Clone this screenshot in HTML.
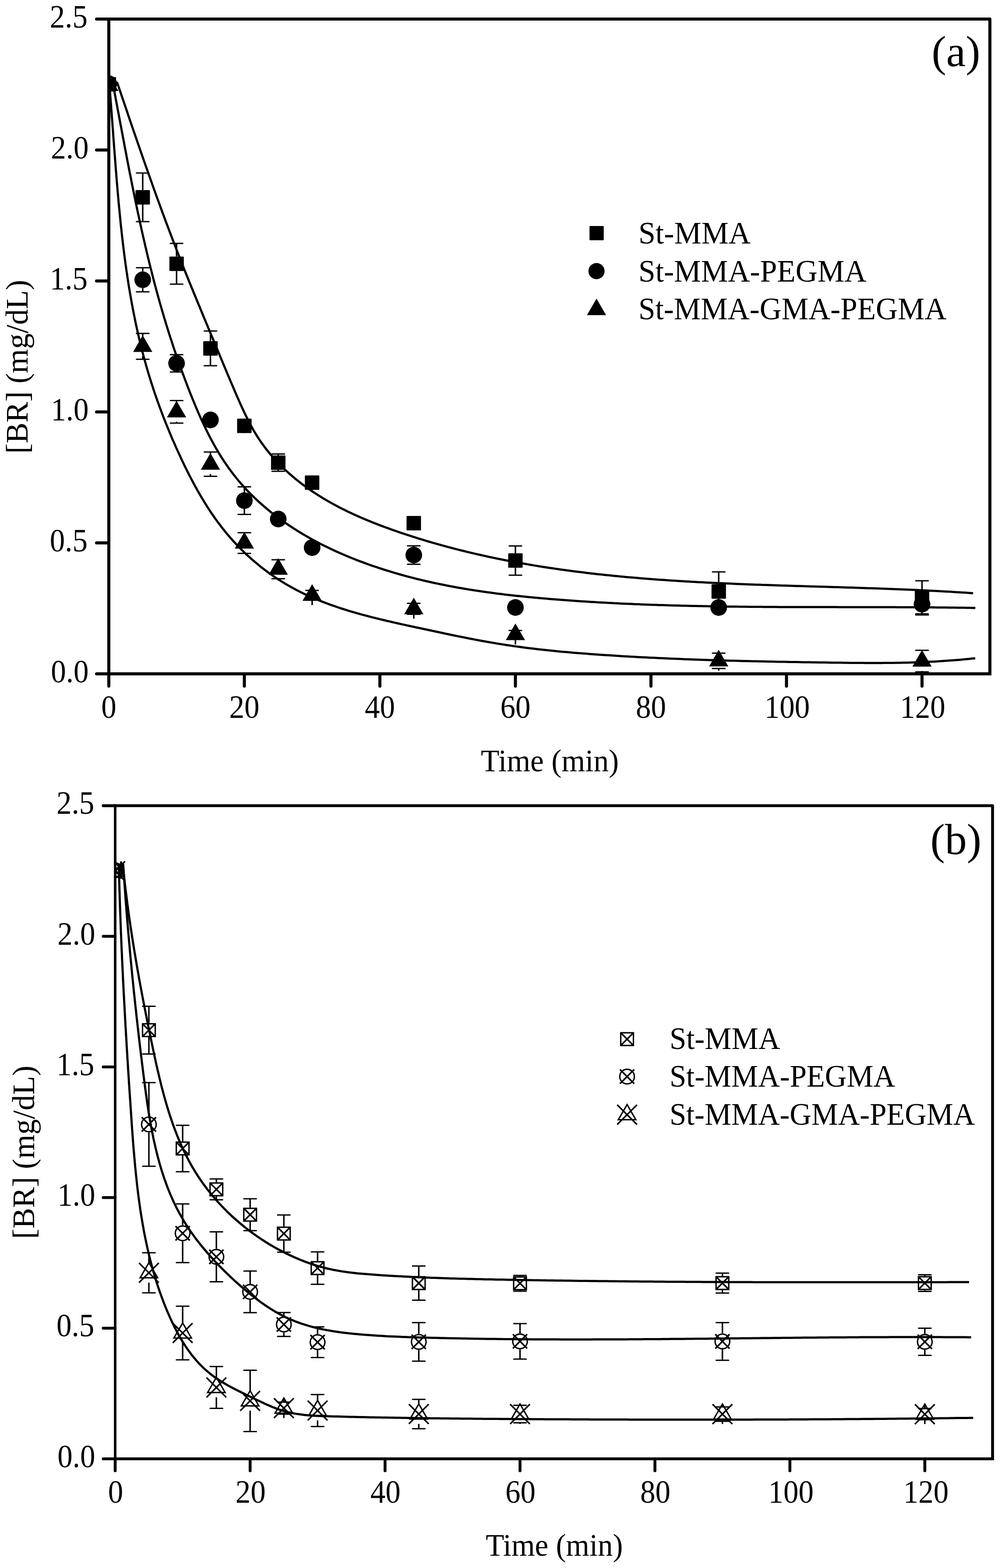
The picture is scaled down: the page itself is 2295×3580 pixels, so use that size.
<!DOCTYPE html>
<html><head><meta charset="utf-8"><title>BR adsorption kinetics</title>
<style>html,body{margin:0;padding:0;background:#fff;}svg{display:block;}</style>
</head><body>
<svg width="2295" height="3580" viewBox="0 0 2295 3580">
<rect width="2295" height="3580" fill="#fff"/>
<defs><clipPath id="ca"><rect x="248.5" y="43.5" width="2012" height="1495"/></clipPath>
<clipPath id="cb"><rect x="263" y="1839.5" width="2003.6" height="1491.2"/></clipPath></defs>
<g stroke="#000" stroke-linecap="round" stroke-width="7">
<line x1="248.5" y1="1538.5" x2="220.5" y2="1538.5"/>
<line x1="248.5" y1="1239.5" x2="220.5" y2="1239.5"/>
<line x1="248.5" y1="940.5" x2="220.5" y2="940.5"/>
<line x1="248.5" y1="641.5" x2="220.5" y2="641.5"/>
<line x1="248.5" y1="342.5" x2="220.5" y2="342.5"/>
<line x1="248.5" y1="43.5" x2="220.5" y2="43.5"/>
<line x1="248.5" y1="1538.5" x2="248.5" y2="1566.5"/>
<line x1="558" y1="1538.5" x2="558" y2="1566.5"/>
<line x1="867.5" y1="1538.5" x2="867.5" y2="1566.5"/>
<line x1="1177" y1="1538.5" x2="1177" y2="1566.5"/>
<line x1="1486.5" y1="1538.5" x2="1486.5" y2="1566.5"/>
<line x1="1796" y1="1538.5" x2="1796" y2="1566.5"/>
<line x1="2105.5" y1="1538.5" x2="2105.5" y2="1566.5"/>
<path d="M248.5 43.5L2260.5 43.5L2260.5 1538.5" fill="none" stroke-linejoin="round" stroke-linecap="square"/>
<path d="M2260.5 1538.5L248.5 1538.5" fill="none" stroke-linecap="square"/>
<path d="M248.5 1538.5L248.5 43.5" fill="none" stroke-linecap="square" stroke-width="7"/>
</g>
<g stroke="#000" stroke-linecap="round" stroke-width="6.6">
<line x1="263" y1="3330.7" x2="235.7" y2="3330.7"/>
<line x1="263" y1="3032.5" x2="235.7" y2="3032.5"/>
<line x1="263" y1="2734.3" x2="235.7" y2="2734.3"/>
<line x1="263" y1="2436" x2="235.7" y2="2436"/>
<line x1="263" y1="2137.8" x2="235.7" y2="2137.8"/>
<line x1="263" y1="1839.6" x2="235.7" y2="1839.6"/>
<line x1="263" y1="3330.7" x2="263" y2="3358"/>
<line x1="571.2" y1="3330.7" x2="571.2" y2="3358"/>
<line x1="879.3" y1="3330.7" x2="879.3" y2="3358"/>
<line x1="1187.5" y1="3330.7" x2="1187.5" y2="3358"/>
<line x1="1495.6" y1="3330.7" x2="1495.6" y2="3358"/>
<line x1="1803.8" y1="3330.7" x2="1803.8" y2="3358"/>
<line x1="2111.9" y1="3330.7" x2="2111.9" y2="3358"/>
<path d="M263 1839.5L2266.6 1839.5L2266.6 3330.7" fill="none" stroke-linejoin="round" stroke-linecap="square"/>
<path d="M2266.6 3330.7L263 3330.7" fill="none" stroke-linecap="square"/>
<path d="M263 3330.7L263 1839.5" fill="none" stroke-linecap="square" stroke-width="5.8"/>
</g>
<g fill="none" stroke="#000" stroke-width="5" stroke-linecap="butt" stroke-linejoin="round" clip-path="url(#ca)">
<path d="M267.1 187L269.2 193.1L271.3 199.3L273.4 205.4L275.5 211.6L277.5 217.7L279.6 223.9L281.7 230L283.8 236.2L285.9 242.3L288 248.5L290.1 254.6L292.1 260.8L294.2 266.9L296.3 273.1L298.4 279.2L300.5 285.4L302.6 291.5L304.7 297.7L306.9 303.9L309 310L311.1 316.2L313.2 322.3L315.3 328.4L317.5 334.6L319.6 340.7L321.7 346.9L323.9 353L326 359.2L328.1 365.3L330.3 371.5L332.4 377.6L334.6 383.7L336.8 389.9L338.9 396L341.1 402.1L343.3 408.3L345.5 414.4L347.6 420.5L349.8 426.7L352 432.8L354.2 438.9L356.4 445L358.6 451.1L360.9 457.3L363.1 463.4L365.3 469.5L367.6 475.6L369.8 481.7L372 487.8L374.3 493.9L376.6 500L378.8 506.1L381.1 512.2L383.4 518.3L385.7 524.3L388 530.4L390.3 536.5L392.6 542.6L394.9 548.6L397.2 554.7L399.6 560.8L401.9 566.8L404.2 572.9L406.6 578.9L409 585L411.3 591L413.7 597.1L416.1 603.1L418.5 609.1L420.9 615.2L423.3 621.2L425.7 627.2L428.2 633.2L430.6 639.2L433 645.3L435.5 651.3L437.9 657.3L440.4 663.3L442.8 669.3L445.3 675.3L447.8 681.3L450.2 687.3L452.7 693.3L455.2 699.3L457.7 705.3L460.2 711.3L462.6 717.3L465.1 723.3L467.6 729.2L470.1 735.2L472.6 741.2L475.1 747.2L477.6 753.2L480.1 759.2L482.6 765.2L485.1 771.2L487.6 777.2L490.1 783.2L492.6 789.2L495.1 795.2L497.6 801.2L500.1 807.2L502.6 813.2L505.1 819.2L507.6 825.2L510.1 831.2L512.6 837.2L515.1 843.2L517.6 849.2L520.1 855.2L522.7 861.2L525.2 867.2L527.7 873.2L530.3 879.2L532.9 885.2L535.4 891.2L538 897.2L540.6 903.2L543.3 909.2L545.9 915.2L548.5 921.2L551.2 927.2L554 933.1L556.7 939.1L559.5 945L562.4 950.9L565.3 956.7L568.2 962.5L571.2 968.3L574.3 974L577.5 979.7L580.7 985.3L584.1 990.9L587.5 996.3L591 1001.8L594.6 1007.1L598.3 1012.4L602.1 1017.6L605.9 1022.8L609.9 1027.9L613.9 1032.9L618 1037.8L622.3 1042.7L626.5 1047.5L630.9 1052.3L635.3 1057L639.8 1061.6L644.4 1066.1L649 1070.6L653.7 1075L658.5 1079.3L663.4 1083.6L668.3 1087.8L673.2 1092L678.2 1096.1L683.3 1100.1L688.4 1104.1L693.6 1107.9L698.8 1111.8L704.1 1115.5L709.4 1119.2L714.7 1122.9L720.1 1126.4L725.6 1130L731.1 1133.4L736.6 1136.8L742.1 1140.1L747.7 1143.4L753.4 1146.6L759 1149.8L764.7 1152.9L770.5 1156L776.2 1159L782 1161.9L787.9 1164.8L793.7 1167.7L799.6 1170.5L805.5 1173.3L811.4 1176L817.4 1178.6L823.4 1181.3L829.4 1183.9L835.4 1186.4L841.4 1188.9L847.5 1191.4L853.6 1193.8L859.7 1196.2L865.8 1198.6L871.9 1200.9L878 1203.2L884.2 1205.4L890.3 1207.7L896.5 1209.8L902.7 1212L908.9 1214.1L915.1 1216.3L921.3 1218.3L927.5 1220.4L933.7 1222.4L939.9 1224.4L946.1 1226.4L952.3 1228.4L958.5 1230.3L964.8 1232.2L971 1234.1L977.3 1236L983.5 1237.8L989.7 1239.6L996 1241.4L1002.3 1243.2L1008.5 1244.9L1014.8 1246.6L1021.1 1248.3L1027.3 1250L1033.6 1251.7L1039.9 1253.3L1046.2 1254.9L1052.5 1256.5L1058.8 1258L1065.1 1259.6L1071.4 1261.1L1077.7 1262.6L1084 1264.1L1090.3 1265.5L1096.7 1267L1103 1268.4L1109.3 1269.8L1115.6 1271.2L1122 1272.5L1128.3 1273.9L1134.7 1275.2L1141 1276.5L1147.4 1277.8L1153.7 1279L1160.1 1280.3L1166.4 1281.5L1172.8 1282.7L1179.2 1283.9L1185.5 1285L1191.9 1286.2L1198.3 1287.3L1204.7 1288.4L1211.1 1289.5L1217.4 1290.6L1223.8 1291.6L1230.2 1292.7L1236.6 1293.7L1243 1294.7L1249.4 1295.7L1255.8 1296.7L1262.2 1297.6L1268.7 1298.6L1275.1 1299.5L1281.5 1300.4L1287.9 1301.3L1294.3 1302.2L1300.8 1303L1307.2 1303.9L1313.6 1304.7L1320.1 1305.5L1326.5 1306.3L1332.9 1307.1L1339.4 1307.9L1345.8 1308.7L1352.3 1309.4L1358.7 1310.2L1365.2 1310.9L1371.6 1311.6L1378.1 1312.3L1384.5 1313L1391 1313.6L1397.4 1314.3L1403.9 1314.9L1410.4 1315.6L1416.8 1316.2L1423.3 1316.8L1429.8 1317.4L1436.3 1318L1442.7 1318.5L1449.2 1319.1L1455.7 1319.6L1462.2 1320.2L1468.7 1320.7L1475.1 1321.2L1481.6 1321.7L1488.1 1322.2L1494.6 1322.7L1501.1 1323.2L1507.6 1323.7L1514.1 1324.1L1520.6 1324.6L1527.1 1325L1533.6 1325.4L1540.1 1325.8L1546.6 1326.3L1553.1 1326.7L1559.6 1327L1566.1 1327.4L1572.6 1327.8L1579.1 1328.2L1585.6 1328.5L1592.1 1328.9L1598.6 1329.2L1605.1 1329.6L1611.6 1329.9L1618.1 1330.2L1624.7 1330.6L1631.2 1330.9L1637.7 1331.2L1644.2 1331.5L1650.7 1331.8L1657.2 1332.1L1663.7 1332.3L1670.3 1332.6L1676.8 1332.9L1683.3 1333.2L1689.8 1333.4L1696.3 1333.7L1702.8 1333.9L1709.4 1334.2L1715.9 1334.4L1722.4 1334.7L1728.9 1334.9L1735.4 1335.1L1742 1335.4L1748.5 1335.6L1755 1335.8L1761.5 1336L1768 1336.2L1774.6 1336.5L1781.1 1336.7L1787.6 1336.9L1794.1 1337.1L1800.6 1337.3L1807.2 1337.5L1813.7 1337.7L1820.2 1337.9L1826.7 1338.1L1833.2 1338.3L1839.8 1338.5L1846.3 1338.7L1852.8 1338.9L1859.3 1339.1L1865.8 1339.3L1872.3 1339.4L1878.9 1339.6L1885.4 1339.8L1891.9 1340L1898.4 1340.2L1904.9 1340.4L1911.4 1340.6L1917.9 1340.8L1924.4 1341L1930.9 1341.2L1937.4 1341.4L1944 1341.6L1950.5 1341.8L1957 1342L1963.5 1342.2L1970 1342.4L1976.5 1342.7L1983 1342.9L1989.5 1343.1L1996 1343.3L2002.4 1343.5L2008.9 1343.8L2015.4 1344L2021.9 1344.2L2028.4 1344.5L2034.9 1344.7L2041.4 1345L2047.9 1345.2L2054.3 1345.5L2060.8 1345.7L2067.3 1346L2073.8 1346.3L2080.3 1346.6L2086.7 1346.8L2093.2 1347.1L2099.7 1347.4L2106.1 1347.7L2112.6 1348L2119.1 1348.4L2125.5 1348.7L2132 1349L2138.4 1349.3L2144.9 1349.7L2151.3 1350L2157.8 1350.4L2164.2 1350.7L2170.7 1351.1L2177.1 1351.5L2183.6 1351.9L2190 1352.3L2196.4 1352.7L2202.9 1353.1L2209.3 1353.5L2215.7 1353.9L2222.2 1354.4"/>
<path d="M257.1 187.3L258.4 193.9L259.6 200.5L260.9 207.2L262.1 213.9L263.4 220.5L264.6 227.2L265.9 233.8L267.1 240.5L268.4 247.2L269.6 253.9L270.9 260.5L272.1 267.2L273.4 273.9L274.6 280.6L275.9 287.3L277.2 293.9L278.4 300.6L279.7 307.3L280.9 314L282.2 320.7L283.5 327.4L284.7 334.1L286 340.8L287.3 347.5L288.6 354.2L289.8 360.9L291.1 367.6L292.4 374.3L293.7 381L295 387.7L296.3 394.4L297.7 401L299 407.7L300.3 414.4L301.6 421.1L303 427.8L304.3 434.5L305.7 441.2L307.1 447.9L308.4 454.5L309.8 461.2L311.2 467.9L312.6 474.6L314 481.3L315.4 487.9L316.9 494.6L318.3 501.3L319.7 507.9L321.2 514.6L322.7 521.2L324.1 527.9L325.6 534.5L327.1 541.2L328.7 547.8L330.2 554.5L331.7 561.1L333.3 567.7L334.8 574.3L336.4 581L338 587.6L339.6 594.2L341.2 600.8L342.8 607.4L344.5 614L346.2 620.6L347.8 627.1L349.5 633.7L351.2 640.3L352.9 646.9L354.7 653.4L356.4 660L358.2 666.5L360 673L361.8 679.6L363.6 686.1L365.5 692.6L367.3 699.1L369.2 705.6L371.1 712.1L373 718.6L374.9 725.1L376.9 731.6L378.8 738.1L380.8 744.5L382.8 751L384.9 757.5L386.9 763.9L389 770.4L391.1 776.8L393.2 783.3L395.3 789.7L397.4 796.2L399.6 802.6L401.8 809L404 815.5L406.3 821.9L408.5 828.3L410.8 834.8L413.1 841.2L415.4 847.6L417.8 854L420.2 860.4L422.6 866.8L425 873.2L427.4 879.6L429.9 886.1L432.4 892.5L434.9 898.9L437.5 905.3L440 911.6L442.7 918L445.3 924.4L448 930.8L450.7 937.1L453.4 943.4L456.2 949.7L459 956L461.9 962.3L464.8 968.5L467.8 974.7L470.8 980.9L473.8 987L476.9 993.2L480.1 999.2L483.3 1005.3L486.5 1011.3L489.8 1017.2L493.2 1023.2L496.6 1029L500.1 1034.9L503.6 1040.6L507.2 1046.4L510.9 1052L514.7 1057.6L518.5 1063.2L522.3 1068.7L526.3 1074.1L530.3 1079.5L534.4 1084.8L538.6 1090L542.8 1095.2L547.1 1100.3L551.5 1105.4L555.9 1110.4L560.4 1115.3L565 1120.2L569.6 1125L574.3 1129.7L579.1 1134.4L583.9 1139L588.8 1143.6L593.7 1148.1L598.7 1152.5L603.8 1156.9L608.9 1161.2L614 1165.5L619.2 1169.7L624.5 1173.9L629.8 1178L635.2 1182L640.6 1186L646.1 1189.9L651.6 1193.8L657.2 1197.6L662.8 1201.4L668.5 1205.1L674.2 1208.7L679.9 1212.3L685.7 1215.9L691.5 1219.4L697.4 1222.8L703.3 1226.2L709.3 1229.6L715.2 1232.9L721.3 1236.1L727.3 1239.3L733.4 1242.4L739.5 1245.5L745.7 1248.5L751.8 1251.5L758.1 1254.5L764.3 1257.4L770.6 1260.2L776.9 1263L783.2 1265.8L789.5 1268.5L795.9 1271.1L802.3 1273.7L808.7 1276.3L815.1 1278.8L821.5 1281.3L828 1283.7L834.5 1286.1L841 1288.5L847.5 1290.8L854 1293L860.6 1295.2L867.1 1297.4L873.7 1299.5L880.3 1301.6L886.9 1303.7L893.5 1305.7L900.1 1307.6L906.7 1309.6L913.3 1311.5L919.9 1313.3L926.5 1315.1L933.1 1316.9L939.8 1318.6L946.4 1320.3L953 1322L959.7 1323.6L966.3 1325.2L972.9 1326.7L979.6 1328.3L986.2 1329.7L992.9 1331.2L999.5 1332.6L1006.2 1334L1012.8 1335.3L1019.5 1336.7L1026.2 1338L1032.8 1339.2L1039.5 1340.5L1046.2 1341.7L1052.9 1342.8L1059.5 1344L1066.2 1345.1L1072.9 1346.2L1079.6 1347.2L1086.3 1348.3L1093 1349.3L1099.7 1350.3L1106.3 1351.3L1113 1352.2L1119.7 1353.1L1126.5 1354L1133.2 1354.9L1139.9 1355.7L1146.6 1356.6L1153.3 1357.4L1160 1358.2L1166.7 1358.9L1173.4 1359.7L1180.2 1360.4L1186.9 1361.1L1193.6 1361.8L1200.4 1362.5L1207.1 1363.2L1213.8 1363.8L1220.6 1364.5L1227.3 1365.1L1234.1 1365.7L1240.8 1366.3L1247.6 1366.8L1254.3 1367.4L1261.1 1368L1267.8 1368.5L1274.6 1369L1281.3 1369.6L1288.1 1370.1L1294.9 1370.6L1301.6 1371.1L1308.4 1371.5L1315.2 1372L1321.9 1372.5L1328.7 1372.9L1335.5 1373.3L1342.3 1373.8L1349 1374.2L1355.8 1374.6L1362.6 1375L1369.4 1375.4L1376.2 1375.8L1383 1376.1L1389.8 1376.5L1396.6 1376.8L1403.4 1377.2L1410.2 1377.5L1417 1377.9L1423.8 1378.2L1430.6 1378.5L1437.4 1378.8L1444.2 1379.1L1451 1379.4L1457.8 1379.6L1464.6 1379.9L1471.4 1380.2L1478.2 1380.4L1485 1380.7L1491.8 1380.9L1498.6 1381.1L1505.5 1381.4L1512.3 1381.6L1519.1 1381.8L1525.9 1382L1532.7 1382.2L1539.5 1382.4L1546.4 1382.6L1553.2 1382.8L1560 1382.9L1566.8 1383.1L1573.7 1383.3L1580.5 1383.4L1587.3 1383.6L1594.1 1383.7L1601 1383.8L1607.8 1384L1614.6 1384.1L1621.5 1384.2L1628.3 1384.3L1635.1 1384.5L1642 1384.6L1648.8 1384.7L1655.6 1384.8L1662.4 1384.9L1669.3 1384.9L1676.1 1385L1682.9 1385.1L1689.8 1385.2L1696.6 1385.3L1703.4 1385.3L1710.3 1385.4L1717.1 1385.4L1723.9 1385.5L1730.8 1385.6L1737.6 1385.6L1744.4 1385.7L1751.3 1385.7L1758.1 1385.7L1764.9 1385.8L1771.8 1385.8L1778.6 1385.9L1785.4 1385.9L1792.3 1385.9L1799.1 1385.9L1805.9 1386L1812.8 1386L1819.6 1386L1826.4 1386L1833.3 1386L1840.1 1386.1L1846.9 1386.1L1853.7 1386.1L1860.6 1386.1L1867.4 1386.1L1874.2 1386.1L1881.1 1386.1L1887.9 1386.1L1894.7 1386.1L1901.5 1386.1L1908.3 1386.1L1915.2 1386.2L1922 1386.2L1928.8 1386.2L1935.6 1386.2L1942.4 1386.2L1949.3 1386.2L1956.1 1386.2L1962.9 1386.2L1969.7 1386.2L1976.5 1386.2L1983.3 1386.2L1990.1 1386.2L1996.9 1386.2L2003.7 1386.2L2010.5 1386.3L2017.3 1386.3L2024.1 1386.3L2030.9 1386.3L2037.7 1386.3L2044.5 1386.3L2051.3 1386.4L2058.1 1386.4L2064.9 1386.4L2071.7 1386.5L2078.5 1386.5L2085.3 1386.5L2092.1 1386.6L2098.9 1386.6L2105.6 1386.6L2112.4 1386.7L2119.2 1386.7L2126 1386.8L2132.7 1386.8L2139.5 1386.9L2146.3 1387L2153.1 1387L2159.8 1387.1L2166.6 1387.2L2173.3 1387.2L2180.1 1387.3L2186.9 1387.4L2193.6 1387.5L2200.4 1387.6L2207.1 1387.7L2213.9 1387.8L2220.6 1387.9L2227.3 1388"/>
<path d="M249.5 190.4L250.1 197.4L250.7 204.5L251.3 211.6L251.8 218.7L252.4 225.7L252.9 232.8L253.5 239.9L254 247L254.6 254.1L255.1 261.2L255.6 268.3L256.2 275.5L256.7 282.6L257.2 289.7L257.8 296.8L258.3 304L258.8 311.1L259.3 318.2L259.9 325.4L260.4 332.5L260.9 339.6L261.5 346.8L262 353.9L262.6 361.1L263.1 368.2L263.7 375.4L264.2 382.5L264.8 389.7L265.4 396.8L265.9 404L266.5 411.1L267.1 418.3L267.7 425.4L268.3 432.6L268.9 439.7L269.6 446.9L270.2 454L270.8 461.2L271.5 468.3L272.2 475.5L272.9 482.6L273.6 489.8L274.3 496.9L275 504.1L275.7 511.2L276.5 518.4L277.3 525.5L278 532.6L278.8 539.7L279.7 546.9L280.5 554L281.3 561.1L282.2 568.2L283.1 575.4L284 582.5L284.9 589.6L285.9 596.7L286.8 603.8L287.8 610.9L288.8 618L289.9 625L290.9 632.1L292 639.2L293.1 646.3L294.2 653.3L295.4 660.4L296.6 667.4L297.8 674.5L299 681.5L300.3 688.5L301.5 695.6L302.9 702.6L304.2 709.6L305.6 716.6L307 723.6L308.4 730.6L309.8 737.6L311.3 744.5L312.9 751.5L314.4 758.5L316 765.4L317.6 772.3L319.3 779.3L320.9 786.2L322.6 793.1L324.4 800L326.2 806.9L328 813.8L329.9 820.7L331.8 827.5L333.7 834.4L335.7 841.2L337.7 848.1L339.7 854.9L341.8 861.7L343.9 868.5L346.1 875.3L348.3 882.1L350.5 888.9L352.7 895.6L355 902.4L357.4 909.1L359.7 915.9L362.2 922.6L364.6 929.3L367.1 936L369.6 942.7L372.1 949.4L374.7 956L377.3 962.7L380 969.4L382.7 976L385.4 982.6L388.1 989.2L390.9 995.9L393.7 1002.5L396.6 1009L399.5 1015.6L402.4 1022.2L405.4 1028.7L408.4 1035.3L411.4 1041.8L414.4 1048.4L417.5 1054.9L420.6 1061.4L423.8 1067.9L427 1074.3L430.2 1080.8L433.5 1087.2L436.9 1093.6L440.2 1100L443.6 1106.3L447.1 1112.7L450.6 1119L454.2 1125.2L457.8 1131.4L461.4 1137.6L465.1 1143.8L468.9 1149.9L472.7 1156L476.6 1162L480.5 1168L484.5 1173.9L488.6 1179.8L492.7 1185.6L496.9 1191.4L501.2 1197.1L505.5 1202.8L509.9 1208.4L514.4 1214L518.9 1219.5L523.5 1224.9L528.2 1230.2L532.9 1235.5L537.8 1240.8L542.6 1245.9L547.6 1251L552.6 1256L557.7 1261L562.8 1265.9L568 1270.7L573.3 1275.4L578.7 1280.1L584.1 1284.7L589.5 1289.2L595 1293.7L600.6 1298L606.2 1302.3L611.9 1306.5L617.7 1310.7L623.5 1314.7L629.3 1318.7L635.2 1322.6L641.2 1326.4L647.2 1330.1L653.3 1333.8L659.4 1337.4L665.6 1340.8L671.8 1344.2L678 1347.5L684.4 1350.8L690.7 1353.9L697.1 1357L703.5 1360L710 1362.9L716.5 1365.7L723.1 1368.5L729.7 1371.2L736.3 1373.8L743 1376.4L749.7 1378.9L756.4 1381.3L763.2 1383.7L769.9 1386L776.8 1388.3L783.6 1390.5L790.5 1392.7L797.3 1394.8L804.2 1396.8L811.2 1398.9L818.1 1400.8L825.1 1402.8L832.1 1404.7L839.1 1406.5L846.1 1408.3L853.1 1410.1L860.1 1411.9L867.2 1413.6L874.2 1415.3L881.3 1417L888.4 1418.6L895.5 1420.3L902.5 1421.9L909.6 1423.5L916.7 1425.1L923.8 1426.6L930.8 1428.2L937.9 1429.7L945 1431.2L952 1432.8L959.1 1434.3L966.1 1435.8L973.2 1437.3L980.2 1438.8L987.2 1440.3L994.3 1441.8L1001.3 1443.3L1008.3 1444.8L1015.3 1446.3L1022.3 1447.8L1029.3 1449.2L1036.3 1450.7L1043.3 1452.1L1050.2 1453.5L1057.2 1454.9L1064.2 1456.3L1071.2 1457.7L1078.2 1459L1085.2 1460.4L1092.2 1461.7L1099.1 1463L1106.1 1464.3L1113.1 1465.5L1120.1 1466.7L1127.1 1467.9L1134.2 1469.1L1141.2 1470.3L1148.2 1471.4L1155.2 1472.5L1162.3 1473.5L1169.3 1474.6L1176.3 1475.6L1183.4 1476.6L1190.5 1477.5L1197.5 1478.5L1204.6 1479.4L1211.7 1480.2L1218.8 1481.1L1225.8 1481.9L1232.9 1482.7L1240 1483.5L1247.1 1484.3L1254.2 1485.1L1261.3 1485.8L1268.5 1486.5L1275.6 1487.2L1282.7 1487.9L1289.8 1488.5L1296.9 1489.1L1304.1 1489.8L1311.2 1490.4L1318.3 1491L1325.5 1491.5L1332.6 1492.1L1339.8 1492.6L1346.9 1493.2L1354.1 1493.7L1361.2 1494.2L1368.3 1494.7L1375.5 1495.2L1382.6 1495.7L1389.8 1496.1L1396.9 1496.6L1404.1 1497.1L1411.3 1497.5L1418.4 1497.9L1425.6 1498.4L1432.7 1498.8L1439.9 1499.2L1447 1499.6L1454.2 1500L1461.3 1500.4L1468.5 1500.7L1475.6 1501.1L1482.8 1501.5L1490 1501.8L1497.1 1502.1L1504.3 1502.5L1511.4 1502.8L1518.6 1503.1L1525.8 1503.4L1532.9 1503.8L1540.1 1504.1L1547.2 1504.3L1554.4 1504.6L1561.6 1504.9L1568.7 1505.2L1575.9 1505.5L1583 1505.7L1590.2 1506L1597.4 1506.2L1604.5 1506.5L1611.7 1506.7L1618.9 1506.9L1626 1507.2L1633.2 1507.4L1640.3 1507.6L1647.5 1507.8L1654.7 1508L1661.8 1508.2L1669 1508.4L1676.2 1508.6L1683.3 1508.8L1690.5 1509L1697.6 1509.2L1704.8 1509.3L1712 1509.5L1719.1 1509.7L1726.3 1509.8L1733.5 1510L1740.6 1510.1L1747.8 1510.3L1754.9 1510.4L1762.1 1510.6L1769.3 1510.7L1776.4 1510.9L1783.6 1511L1790.8 1511.1L1797.9 1511.3L1805.1 1511.4L1812.2 1511.5L1819.4 1511.6L1826.6 1511.8L1833.7 1511.9L1840.9 1512L1848 1512.1L1855.2 1512.2L1862.3 1512.3L1869.5 1512.4L1876.7 1512.5L1883.8 1512.6L1891 1512.8L1898.1 1512.9L1905.3 1513L1912.4 1513.1L1919.6 1513.1L1926.7 1513.2L1933.9 1513.3L1941 1513.4L1948.2 1513.5L1955.4 1513.5L1962.5 1513.6L1969.7 1513.6L1976.8 1513.7L1984 1513.7L1991.1 1513.7L1998.3 1513.7L2005.4 1513.7L2012.6 1513.7L2019.7 1513.6L2026.9 1513.6L2034 1513.5L2041.2 1513.4L2048.3 1513.3L2055.5 1513.2L2062.6 1513L2069.8 1512.9L2076.9 1512.7L2084 1512.5L2091.2 1512.3L2098.3 1512L2105.5 1511.7L2112.6 1511.4L2119.8 1511.1L2126.9 1510.8L2134.1 1510.4L2141.2 1510L2148.4 1509.6L2155.5 1509.1L2162.7 1508.6L2169.8 1508.1L2177 1507.6L2184.1 1507L2191.3 1506.4L2198.4 1505.8L2205.6 1505.1L2212.7 1504.4L2219.9 1503.6L2227 1502.9"/>
</g>
<g fill="none" stroke="#000" stroke-width="5" stroke-linecap="butt" stroke-linejoin="round" clip-path="url(#cb)">
<path d="M280.3 1972.6L281 1979.1L281.6 1985.6L282.3 1992.2L283 1998.7L283.8 2005.2L284.5 2011.6L285.2 2018.1L286 2024.6L286.8 2031.1L287.6 2037.5L288.4 2044L289.2 2050.4L290 2056.8L290.8 2063.3L291.7 2069.7L292.6 2076.1L293.4 2082.5L294.3 2088.9L295.2 2095.3L296.1 2101.7L297.1 2108L298 2114.4L298.9 2120.8L299.9 2127.1L300.9 2133.5L301.8 2139.9L302.8 2146.2L303.8 2152.5L304.9 2158.9L305.9 2165.2L306.9 2171.6L308 2177.9L309 2184.2L310.1 2190.5L311.2 2196.9L312.2 2203.2L313.3 2209.5L314.4 2215.8L315.6 2222.1L316.7 2228.4L317.8 2234.8L319 2241.1L320.1 2247.4L321.3 2253.7L322.5 2260L323.6 2266.3L324.8 2272.6L326 2278.9L327.2 2285.2L328.5 2291.5L329.7 2297.9L330.9 2304.2L332.2 2310.5L333.4 2316.8L334.7 2323.1L335.9 2329.5L337.2 2335.8L338.5 2342.1L339.8 2348.4L341.1 2354.8L342.4 2361.1L343.7 2367.5L345 2373.8L346.3 2380.2L347.6 2386.5L349 2392.9L350.3 2399.2L351.7 2405.6L353 2412L354.4 2418.3L355.8 2424.7L357.2 2431.1L358.7 2437.4L360.1 2443.8L361.6 2450.1L363.1 2456.5L364.6 2462.8L366.2 2469.2L367.7 2475.5L369.3 2481.8L371 2488.1L372.6 2494.4L374.3 2500.7L376 2506.9L377.8 2513.2L379.6 2519.4L381.4 2525.6L383.3 2531.8L385.2 2538L387.2 2544.2L389.2 2550.3L391.3 2556.4L393.4 2562.5L395.5 2568.6L397.7 2574.6L400 2580.7L402.3 2586.7L404.6 2592.6L407 2598.6L409.5 2604.5L412 2610.4L414.6 2616.2L417.3 2622L420 2627.8L422.8 2633.6L425.6 2639.3L428.6 2644.9L431.5 2650.6L434.6 2656.2L437.7 2661.7L440.9 2667.3L444.2 2672.7L447.6 2678.2L451 2683.6L454.5 2688.9L458.1 2694.2L461.8 2699.5L465.5 2704.7L469.3 2709.8L473.2 2715L477.2 2720L481.2 2725L485.3 2730L489.5 2734.9L493.7 2739.8L498 2744.6L502.4 2749.4L506.8 2754.1L511.3 2758.7L515.8 2763.3L520.4 2767.9L525.1 2772.4L529.8 2776.8L534.6 2781.2L539.5 2785.5L544.4 2789.7L549.3 2793.9L554.3 2798L559.4 2802.1L564.5 2806.1L569.6 2810.1L574.9 2813.9L580.1 2817.8L585.4 2821.5L590.8 2825.2L596.1 2828.8L601.6 2832.4L607 2835.8L612.6 2839.3L618.1 2842.6L623.7 2845.9L629.3 2849.1L635 2852.2L640.7 2855.3L646.5 2858.2L652.2 2861.2L658 2864L663.9 2866.8L669.7 2869.4L675.6 2872L681.6 2874.6L687.5 2877L693.5 2879.4L699.5 2881.7L705.5 2883.9L711.6 2886L717.7 2888L723.8 2889.9L729.9 2891.7L736.1 2893.4L742.3 2895L748.5 2896.5L754.8 2897.9L761 2899.2L767.3 2900.4L773.6 2901.5L780 2902.6L786.3 2903.5L792.7 2904.4L799 2905.3L805.4 2906L811.8 2906.7L818.2 2907.4L824.7 2908L831.1 2908.6L837.5 2909.1L844 2909.6L850.4 2910.1L856.9 2910.6L863.3 2911L869.8 2911.4L876.2 2911.9L882.7 2912.3L889.1 2912.7L895.6 2913.1L902 2913.4L908.5 2913.8L914.9 2914.1L921.4 2914.5L927.8 2914.8L934.3 2915.1L940.7 2915.4L947.2 2915.8L953.7 2916L960.1 2916.3L966.6 2916.6L973 2916.9L979.5 2917.1L985.9 2917.4L992.4 2917.6L998.8 2917.8L1005.3 2918.1L1011.8 2918.3L1018.2 2918.5L1024.7 2918.7L1031.1 2918.9L1037.6 2919.1L1044.1 2919.3L1050.5 2919.5L1057 2919.6L1063.4 2919.8L1069.9 2920L1076.4 2920.1L1082.8 2920.3L1089.3 2920.4L1095.7 2920.6L1102.2 2920.7L1108.7 2920.9L1115.1 2921L1121.6 2921.1L1128 2921.3L1134.5 2921.4L1140.9 2921.5L1147.4 2921.6L1153.9 2921.8L1160.3 2921.9L1166.8 2922L1173.2 2922.1L1179.7 2922.2L1186.2 2922.3L1192.6 2922.4L1199.1 2922.6L1205.5 2922.7L1212 2922.8L1218.5 2922.9L1224.9 2923L1231.4 2923.1L1237.8 2923.2L1244.3 2923.3L1250.8 2923.4L1257.2 2923.5L1263.7 2923.6L1270.1 2923.7L1276.6 2923.8L1283.1 2923.8L1289.5 2923.9L1296 2924L1302.4 2924.1L1308.9 2924.2L1315.3 2924.3L1321.8 2924.4L1328.3 2924.4L1334.7 2924.5L1341.2 2924.6L1347.6 2924.7L1354.1 2924.8L1360.5 2924.8L1367 2924.9L1373.5 2925L1379.9 2925.1L1386.4 2925.1L1392.8 2925.2L1399.3 2925.3L1405.8 2925.3L1412.2 2925.4L1418.7 2925.5L1425.1 2925.5L1431.6 2925.6L1438 2925.7L1444.5 2925.7L1451 2925.8L1457.4 2925.8L1463.9 2925.9L1470.3 2925.9L1476.8 2926L1483.2 2926.1L1489.7 2926.1L1496.2 2926.2L1502.6 2926.2L1509.1 2926.3L1515.5 2926.3L1522 2926.4L1528.4 2926.4L1534.9 2926.4L1541.4 2926.5L1547.8 2926.5L1554.3 2926.6L1560.7 2926.6L1567.2 2926.7L1573.6 2926.7L1580.1 2926.7L1586.6 2926.8L1593 2926.8L1599.5 2926.8L1605.9 2926.9L1612.4 2926.9L1618.8 2927L1625.3 2927L1631.8 2927L1638.2 2927L1644.7 2927.1L1651.1 2927.1L1657.6 2927.1L1664 2927.2L1670.5 2927.2L1677 2927.2L1683.4 2927.2L1689.9 2927.3L1696.3 2927.3L1702.8 2927.3L1709.2 2927.3L1715.7 2927.3L1722.2 2927.4L1728.6 2927.4L1735.1 2927.4L1741.5 2927.4L1748 2927.4L1754.4 2927.4L1760.9 2927.5L1767.4 2927.5L1773.8 2927.5L1780.3 2927.5L1786.7 2927.5L1793.2 2927.5L1799.6 2927.5L1806.1 2927.6L1812.6 2927.6L1819 2927.6L1825.5 2927.6L1831.9 2927.6L1838.4 2927.6L1844.8 2927.6L1851.3 2927.6L1857.8 2927.6L1864.2 2927.6L1870.7 2927.6L1877.1 2927.6L1883.6 2927.6L1890.1 2927.6L1896.5 2927.6L1903 2927.6L1909.4 2927.6L1915.9 2927.6L1922.3 2927.6L1928.8 2927.6L1935.3 2927.6L1941.7 2927.6L1948.2 2927.6L1954.6 2927.6L1961.1 2927.6L1967.6 2927.6L1974 2927.6L1980.5 2927.6L1986.9 2927.6L1993.4 2927.6L1999.8 2927.6L2006.3 2927.6L2012.8 2927.6L2019.2 2927.6L2025.7 2927.6L2032.1 2927.6L2038.6 2927.6L2045.1 2927.5L2051.5 2927.5L2058 2927.5L2064.4 2927.5L2070.9 2927.5L2077.4 2927.5L2083.8 2927.5L2090.3 2927.5L2096.7 2927.5L2103.2 2927.5L2109.7 2927.4L2116.1 2927.4L2122.6 2927.4L2129 2927.4L2135.5 2927.4L2142 2927.4L2148.4 2927.4L2154.9 2927.4L2161.3 2927.4L2167.8 2927.3L2174.3 2927.3L2180.7 2927.3L2187.2 2927.3L2193.6 2927.3L2200.1 2927.3L2206.6 2927.3L2213 2927.2"/>
<path d="M281.3 1972.3L281.7 1979.3L282.2 1986.2L282.6 1993.1L283.1 2000.1L283.6 2007L284 2013.9L284.5 2020.8L285 2027.7L285.5 2034.6L286 2041.4L286.5 2048.3L287 2055.2L287.5 2062L288.1 2068.8L288.6 2075.7L289.1 2082.5L289.7 2089.3L290.2 2096.2L290.8 2103L291.4 2109.8L291.9 2116.6L292.5 2123.4L293.1 2130.2L293.7 2137L294.3 2143.8L294.9 2150.6L295.5 2157.3L296.1 2164.1L296.7 2170.9L297.3 2177.6L297.9 2184.4L298.6 2191.2L299.2 2197.9L299.9 2204.7L300.5 2211.5L301.2 2218.2L301.8 2225L302.5 2231.7L303.2 2238.5L303.9 2245.2L304.6 2252L305.2 2258.7L305.9 2265.5L306.7 2272.2L307.4 2279L308.1 2285.7L308.8 2292.5L309.5 2299.2L310.3 2306L311 2312.8L311.7 2319.5L312.5 2326.3L313.3 2333L314 2339.8L314.8 2346.6L315.6 2353.4L316.3 2360.1L317.1 2366.9L317.9 2373.7L318.7 2380.5L319.5 2387.3L320.3 2394.1L321.1 2400.9L321.9 2407.7L322.8 2414.5L323.6 2421.3L324.4 2428.1L325.3 2434.9L326.1 2441.8L327 2448.6L327.8 2455.4L328.7 2462.3L329.6 2469.1L330.5 2476L331.4 2482.9L332.3 2489.7L333.2 2496.6L334.2 2503.4L335.1 2510.3L336.1 2517.1L337.1 2524L338.2 2530.8L339.2 2537.7L340.3 2544.5L341.5 2551.3L342.6 2558.1L343.8 2564.9L345 2571.7L346.3 2578.5L347.6 2585.3L349 2592L350.3 2598.7L351.8 2605.5L353.3 2612.2L354.8 2618.8L356.4 2625.5L358 2632.1L359.7 2638.8L361.4 2645.4L363.2 2651.9L365 2658.5L367 2665L368.9 2671.5L371 2678L373.1 2684.4L375.2 2690.8L377.5 2697.2L379.8 2703.6L382.1 2709.9L384.6 2716.2L387.1 2722.4L389.7 2728.6L392.4 2734.8L395.2 2740.9L398 2747L401 2753.1L404 2759.1L407.1 2765.1L410.3 2771L413.6 2776.9L417 2782.8L420.4 2788.6L424 2794.3L427.7 2800.1L431.4 2805.7L435.2 2811.3L439.1 2816.9L443.1 2822.4L447.2 2827.9L451.3 2833.4L455.6 2838.8L459.8 2844.1L464.2 2849.4L468.6 2854.7L473.1 2859.9L477.6 2865.1L482.2 2870.3L486.8 2875.3L491.5 2880.4L496.3 2885.4L501.1 2890.4L505.9 2895.3L510.8 2900.2L515.7 2905L520.6 2909.8L525.6 2914.6L530.6 2919.3L535.7 2924L540.8 2928.6L545.9 2933.2L551.1 2937.7L556.3 2942.1L561.5 2946.5L566.8 2950.9L572.1 2955.2L577.5 2959.4L582.8 2963.6L588.3 2967.7L593.8 2971.7L599.3 2975.7L604.8 2979.6L610.5 2983.4L616.1 2987.1L621.9 2990.7L627.6 2994.2L633.5 2997.5L639.4 3000.8L645.3 3003.9L651.3 3006.9L657.4 3009.8L663.5 3012.5L669.7 3015.1L676 3017.6L682.3 3019.9L688.7 3022.1L695.1 3024.2L701.5 3026.2L708 3028.1L714.6 3029.8L721.2 3031.5L727.8 3033L734.5 3034.5L741.2 3035.9L747.9 3037.1L754.6 3038.3L761.4 3039.5L768.2 3040.5L775 3041.5L781.9 3042.4L788.7 3043.3L795.6 3044L802.4 3044.8L809.3 3045.5L816.2 3046.1L823.1 3046.7L830 3047.3L836.8 3047.8L843.7 3048.3L850.6 3048.8L857.4 3049.3L864.3 3049.7L871.1 3050.1L878 3050.5L884.8 3050.9L891.7 3051.2L898.5 3051.5L905.3 3051.8L912.2 3052.1L919 3052.4L925.8 3052.6L932.7 3052.9L939.5 3053.1L946.3 3053.3L953.1 3053.5L960 3053.7L966.8 3053.9L973.6 3054.1L980.4 3054.3L987.3 3054.5L994.1 3054.6L1000.9 3054.8L1007.7 3055L1014.6 3055.1L1021.4 3055.3L1028.2 3055.4L1035 3055.6L1041.9 3055.7L1048.7 3055.8L1055.5 3056L1062.3 3056.1L1069.2 3056.2L1076 3056.3L1082.8 3056.4L1089.6 3056.5L1096.5 3056.7L1103.3 3056.8L1110.1 3056.9L1117 3056.9L1123.8 3057L1130.6 3057.1L1137.4 3057.2L1144.3 3057.3L1151.1 3057.4L1157.9 3057.4L1164.8 3057.5L1171.6 3057.6L1178.4 3057.6L1185.3 3057.7L1192.1 3057.7L1198.9 3057.8L1205.8 3057.8L1212.6 3057.9L1219.4 3057.9L1226.2 3058L1233.1 3058L1239.9 3058L1246.7 3058.1L1253.6 3058.1L1260.4 3058.1L1267.3 3058.1L1274.1 3058.1L1280.9 3058.2L1287.8 3058.2L1294.6 3058.2L1301.4 3058.2L1308.3 3058.2L1315.1 3058.2L1321.9 3058.2L1328.8 3058.2L1335.6 3058.2L1342.4 3058.2L1349.3 3058.2L1356.1 3058.1L1363 3058.1L1369.8 3058.1L1376.6 3058.1L1383.5 3058.1L1390.3 3058L1397.1 3058L1404 3058L1410.8 3058L1417.6 3057.9L1424.5 3057.9L1431.3 3057.9L1438.2 3057.8L1445 3057.8L1451.8 3057.7L1458.7 3057.7L1465.5 3057.7L1472.4 3057.6L1479.2 3057.6L1486 3057.5L1492.9 3057.5L1499.7 3057.4L1506.6 3057.4L1513.4 3057.3L1520.2 3057.2L1527.1 3057.2L1533.9 3057.1L1540.8 3057.1L1547.6 3057L1554.4 3057L1561.3 3056.9L1568.1 3056.8L1574.9 3056.8L1581.8 3056.7L1588.6 3056.6L1595.5 3056.6L1602.3 3056.5L1609.2 3056.4L1616 3056.4L1622.8 3056.3L1629.7 3056.2L1636.5 3056.2L1643.4 3056.1L1650.2 3056L1657 3056L1663.9 3055.9L1670.7 3055.8L1677.6 3055.7L1684.4 3055.7L1691.2 3055.6L1698.1 3055.5L1704.9 3055.5L1711.8 3055.4L1718.6 3055.3L1725.4 3055.2L1732.3 3055.2L1739.1 3055.1L1746 3055L1752.8 3055L1759.6 3054.9L1766.5 3054.8L1773.3 3054.7L1780.2 3054.7L1787 3054.6L1793.8 3054.5L1800.7 3054.5L1807.5 3054.4L1814.4 3054.3L1821.2 3054.3L1828 3054.2L1834.9 3054.1L1841.7 3054.1L1848.6 3054L1855.4 3054L1862.2 3053.9L1869.1 3053.8L1875.9 3053.8L1882.7 3053.7L1889.6 3053.7L1896.4 3053.6L1903.3 3053.6L1910.1 3053.5L1916.9 3053.5L1923.8 3053.4L1930.6 3053.4L1937.5 3053.3L1944.3 3053.3L1951.1 3053.2L1958 3053.2L1964.8 3053.1L1971.6 3053.1L1978.5 3053.1L1985.3 3053L1992.1 3053L1999 3053L2005.8 3052.9L2012.7 3052.9L2019.5 3052.9L2026.3 3052.9L2033.2 3052.8L2040 3052.8L2046.8 3052.8L2053.7 3052.8L2060.5 3052.8L2067.3 3052.8L2074.2 3052.8L2081 3052.7L2087.8 3052.7L2094.7 3052.7L2101.5 3052.7L2108.3 3052.8L2115.2 3052.8L2122 3052.8L2128.8 3052.8L2135.7 3052.8L2142.5 3052.8L2149.3 3052.8L2156.2 3052.9L2163 3052.9L2169.8 3052.9L2176.7 3052.9L2183.5 3053L2190.3 3053L2197.2 3053.1L2204 3053.1L2210.8 3053.2L2217.6 3053.2"/>
<path d="M271.2 1971.4L271.4 1978.9L271.6 1986.4L271.8 1993.9L272 2001.4L272.2 2009L272.4 2016.5L272.6 2024L272.8 2031.5L273.1 2039L273.3 2046.4L273.5 2053.9L273.8 2061.4L274 2068.9L274.3 2076.4L274.5 2083.8L274.8 2091.3L275.1 2098.7L275.3 2106.2L275.6 2113.7L275.9 2121.1L276.2 2128.6L276.5 2136L276.8 2143.4L277.1 2150.9L277.4 2158.3L277.7 2165.7L278.1 2173.2L278.4 2180.6L278.7 2188L279.1 2195.5L279.4 2202.9L279.8 2210.3L280.1 2217.7L280.5 2225.1L280.8 2232.6L281.2 2240L281.6 2247.4L281.9 2254.8L282.3 2262.2L282.7 2269.6L283.1 2277L283.5 2284.4L283.9 2291.8L284.3 2299.2L284.7 2306.6L285.1 2314.1L285.5 2321.5L285.9 2328.9L286.3 2336.3L286.7 2343.7L287.2 2351.1L287.6 2358.5L288 2365.9L288.5 2373.3L288.9 2380.7L289.3 2388.1L289.8 2395.6L290.2 2403L290.7 2410.4L291.1 2417.8L291.6 2425.2L292.1 2432.6L292.5 2440.1L293 2447.5L293.5 2454.9L294 2462.3L294.4 2469.8L294.9 2477.2L295.4 2484.6L295.9 2492.1L296.4 2499.5L296.9 2507L297.4 2514.4L297.9 2521.9L298.4 2529.3L298.9 2536.8L299.4 2544.2L299.9 2551.7L300.4 2559.2L300.9 2566.6L301.4 2574.1L302 2581.6L302.5 2589.1L303.1 2596.5L303.6 2604L304.2 2611.5L304.8 2619L305.4 2626.4L306.1 2633.9L306.7 2641.4L307.4 2648.8L308 2656.3L308.7 2663.8L309.5 2671.2L310.2 2678.7L311 2686.1L311.8 2693.6L312.6 2701L313.4 2708.4L314.3 2715.9L315.2 2723.3L316.1 2730.7L317.1 2738.1L318.1 2745.5L319.2 2752.9L320.2 2760.3L321.3 2767.6L322.5 2775L323.7 2782.4L324.9 2789.7L326.2 2797L327.5 2804.3L328.8 2811.7L330.2 2819L331.7 2826.2L333.2 2833.5L334.7 2840.8L336.3 2848L337.9 2855.2L339.6 2862.5L341.4 2869.7L343.1 2876.8L345 2884L346.9 2891.2L348.9 2898.3L350.9 2905.4L353 2912.5L355.1 2919.6L357.3 2926.7L359.6 2933.7L361.9 2940.7L364.3 2947.8L366.8 2954.7L369.3 2961.7L371.9 2968.7L374.6 2975.6L377.3 2982.5L380.1 2989.4L383 2996.2L386 3003.1L389 3009.9L392.1 3016.6L395.4 3023.4L398.6 3030.1L402 3036.7L405.5 3043.3L409.1 3049.8L412.8 3056.2L416.6 3062.6L420.6 3068.9L424.6 3075.1L428.8 3081.1L433.1 3087.1L437.5 3093L442.1 3098.7L446.8 3104.4L451.7 3109.9L456.7 3115.2L461.9 3120.5L467.2 3125.5L472.7 3130.4L478.4 3135.2L484.2 3139.8L490.2 3144.2L496.4 3148.4L502.7 3152.5L509.1 3156.5L515.7 3160.3L522.3 3164.1L529 3167.7L535.8 3171.3L542.7 3174.7L549.5 3178.2L556.4 3181.5L563.3 3184.9L570.1 3188.2L576.9 3191.6L583.7 3194.9L590.4 3198.1L597.2 3201.3L603.9 3204.5L610.6 3207.5L617.4 3210.4L624.2 3213.2L631 3215.8L637.8 3218.3L644.8 3220.5L651.7 3222.6L658.8 3224.4L665.9 3226L673.1 3227.4L680.3 3228.6L687.6 3229.6L694.9 3230.5L702.3 3231.2L709.7 3231.8L717.1 3232.3L724.6 3232.7L732.1 3233L739.6 3233.3L747.1 3233.5L754.6 3233.7L762.1 3233.9L769.6 3234.1L777.2 3234.3L784.7 3234.5L792.2 3234.7L799.6 3234.9L807.1 3235.1L814.6 3235.2L822.1 3235.4L829.6 3235.6L837.1 3235.7L844.6 3235.9L852 3236L859.5 3236.2L867 3236.3L874.4 3236.4L881.9 3236.6L889.4 3236.7L896.8 3236.8L904.3 3237L911.8 3237.1L919.2 3237.2L926.7 3237.3L934.1 3237.4L941.6 3237.6L949 3237.7L956.5 3237.8L963.9 3237.9L971.4 3238L978.8 3238.1L986.2 3238.2L993.7 3238.2L1001.1 3238.3L1008.6 3238.4L1016 3238.5L1023.4 3238.6L1030.9 3238.7L1038.3 3238.7L1045.7 3238.8L1053.2 3238.9L1060.6 3239L1068.1 3239L1075.5 3239.1L1082.9 3239.2L1090.3 3239.2L1097.8 3239.3L1105.2 3239.4L1112.6 3239.4L1120.1 3239.5L1127.5 3239.5L1134.9 3239.6L1142.4 3239.7L1149.8 3239.7L1157.2 3239.8L1164.7 3239.8L1172.1 3239.9L1179.6 3239.9L1187 3240L1194.4 3240L1201.9 3240.1L1209.3 3240.1L1216.7 3240.2L1224.2 3240.2L1231.6 3240.3L1239.1 3240.3L1246.5 3240.4L1253.9 3240.4L1261.4 3240.4L1268.8 3240.5L1276.3 3240.5L1283.7 3240.6L1291.2 3240.6L1298.6 3240.6L1306 3240.7L1313.5 3240.7L1320.9 3240.7L1328.4 3240.8L1335.8 3240.8L1343.3 3240.8L1350.7 3240.9L1358.2 3240.9L1365.6 3240.9L1373.1 3241L1380.5 3241L1388 3241L1395.4 3241L1402.8 3241.1L1410.3 3241.1L1417.7 3241.1L1425.2 3241.1L1432.6 3241.1L1440.1 3241.2L1447.5 3241.2L1455 3241.2L1462.4 3241.2L1469.9 3241.2L1477.4 3241.2L1484.8 3241.3L1492.3 3241.3L1499.7 3241.3L1507.2 3241.3L1514.6 3241.3L1522.1 3241.3L1529.5 3241.3L1537 3241.3L1544.4 3241.3L1551.9 3241.3L1559.3 3241.3L1566.8 3241.3L1574.2 3241.3L1581.7 3241.3L1589.1 3241.3L1596.6 3241.3L1604.1 3241.3L1611.5 3241.3L1619 3241.3L1626.4 3241.3L1633.9 3241.3L1641.3 3241.3L1648.8 3241.3L1656.2 3241.3L1663.7 3241.3L1671.1 3241.3L1678.6 3241.2L1686.1 3241.2L1693.5 3241.2L1701 3241.2L1708.4 3241.2L1715.9 3241.2L1723.3 3241.1L1730.8 3241.1L1738.2 3241.1L1745.7 3241.1L1753.1 3241L1760.6 3241L1768.1 3241L1775.5 3241L1783 3240.9L1790.4 3240.9L1797.9 3240.9L1805.3 3240.8L1812.8 3240.8L1820.2 3240.8L1827.7 3240.7L1835.1 3240.7L1842.6 3240.7L1850 3240.6L1857.5 3240.6L1865 3240.5L1872.4 3240.5L1879.9 3240.5L1887.3 3240.4L1894.8 3240.4L1902.2 3240.3L1909.7 3240.3L1917.1 3240.2L1924.6 3240.2L1932 3240.1L1939.5 3240.1L1946.9 3240L1954.4 3240L1961.8 3239.9L1969.3 3239.8L1976.7 3239.8L1984.2 3239.7L1991.6 3239.7L1999.1 3239.6L2006.5 3239.5L2014 3239.5L2021.4 3239.4L2028.8 3239.3L2036.3 3239.3L2043.7 3239.2L2051.2 3239.1L2058.6 3239.1L2066.1 3239L2073.5 3238.9L2081 3238.8L2088.4 3238.8L2095.8 3238.7L2103.3 3238.6L2110.7 3238.5L2118.2 3238.4L2125.6 3238.4L2133.1 3238.3L2140.5 3238.2L2147.9 3238.1L2155.4 3238L2162.8 3237.9L2170.2 3237.8L2177.7 3237.7L2185.1 3237.6L2192.6 3237.5L2200 3237.5L2207.4 3237.4L2214.9 3237.3L2222.3 3237.2"/>
</g>
<g fill="#000" stroke="#000" stroke-linecap="round" clip-path="url(#ca)">
<line x1="325.9" y1="433.9" x2="325.9" y2="394.9" stroke-width="3.4" stroke-linecap="butt"/>
<line x1="311.6" y1="394.9" x2="340.1" y2="394.9" stroke-width="3"/>
<line x1="325.9" y1="466.9" x2="325.9" y2="505.9" stroke-width="3.4" stroke-linecap="butt"/>
<line x1="311.6" y1="505.9" x2="340.1" y2="505.9" stroke-width="3"/>
<line x1="325.9" y1="619.7" x2="325.9" y2="611.2" stroke-width="3.4" stroke-linecap="butt"/>
<line x1="311.6" y1="611.2" x2="340.1" y2="611.2" stroke-width="3"/>
<line x1="325.9" y1="657.7" x2="325.9" y2="666.2" stroke-width="3.4" stroke-linecap="butt"/>
<line x1="311.6" y1="666.2" x2="340.1" y2="666.2" stroke-width="3"/>
<line x1="325.9" y1="768.3" x2="325.9" y2="761.3" stroke-width="3.4" stroke-linecap="butt"/>
<line x1="311.6" y1="761.3" x2="340.1" y2="761.3" stroke-width="3"/>
<line x1="325.9" y1="813.3" x2="325.9" y2="820.3" stroke-width="3.4" stroke-linecap="butt"/>
<line x1="311.6" y1="820.3" x2="340.1" y2="820.3" stroke-width="3"/>
<line x1="403.2" y1="585.7" x2="403.2" y2="555.7" stroke-width="3.4" stroke-linecap="butt"/>
<line x1="389" y1="555.7" x2="417.5" y2="555.7" stroke-width="3"/>
<line x1="403.2" y1="618.7" x2="403.2" y2="648.7" stroke-width="3.4" stroke-linecap="butt"/>
<line x1="389" y1="648.7" x2="417.5" y2="648.7" stroke-width="3"/>
<line x1="403.2" y1="810.5" x2="403.2" y2="809.7" stroke-width="3.4" stroke-linecap="butt"/>
<line x1="389" y1="809.7" x2="417.5" y2="809.7" stroke-width="3"/>
<line x1="403.2" y1="848.5" x2="403.2" y2="849.3" stroke-width="3.4" stroke-linecap="butt"/>
<line x1="389" y1="849.3" x2="417.5" y2="849.3" stroke-width="3"/>
<line x1="403.2" y1="917.8" x2="403.2" y2="914.6" stroke-width="3.4" stroke-linecap="butt"/>
<line x1="389" y1="914.6" x2="417.5" y2="914.6" stroke-width="3"/>
<line x1="403.2" y1="962.8" x2="403.2" y2="966" stroke-width="3.4" stroke-linecap="butt"/>
<line x1="389" y1="966" x2="417.5" y2="966" stroke-width="3"/>
<line x1="480.6" y1="778.9" x2="480.6" y2="755.8" stroke-width="3.4" stroke-linecap="butt"/>
<line x1="466.4" y1="755.8" x2="494.9" y2="755.8" stroke-width="3"/>
<line x1="480.6" y1="811.9" x2="480.6" y2="835" stroke-width="3.4" stroke-linecap="butt"/>
<line x1="466.4" y1="835" x2="494.9" y2="835" stroke-width="3"/>
<line x1="480.6" y1="939.8" x2="480.6" y2="953.8" stroke-width="3.4" stroke-linecap="butt"/>
<line x1="466.4" y1="953.8" x2="494.9" y2="953.8" stroke-width="3"/>
<line x1="480.6" y1="977.8" x2="480.6" y2="963.8" stroke-width="3.4" stroke-linecap="butt"/>
<line x1="466.4" y1="963.8" x2="494.9" y2="963.8" stroke-width="3"/>
<line x1="480.6" y1="1037.3" x2="480.6" y2="1032.1" stroke-width="3.4" stroke-linecap="butt"/>
<line x1="466.4" y1="1032.1" x2="494.9" y2="1032.1" stroke-width="3"/>
<line x1="480.6" y1="1082.3" x2="480.6" y2="1087.5" stroke-width="3.4" stroke-linecap="butt"/>
<line x1="466.4" y1="1087.5" x2="494.9" y2="1087.5" stroke-width="3"/>
<line x1="558" y1="955.7" x2="558" y2="964.2" stroke-width="3.4" stroke-linecap="butt"/>
<line x1="543.8" y1="964.2" x2="572.2" y2="964.2" stroke-width="3"/>
<line x1="558" y1="988.7" x2="558" y2="980.2" stroke-width="3.4" stroke-linecap="butt"/>
<line x1="543.8" y1="980.2" x2="572.2" y2="980.2" stroke-width="3"/>
<line x1="558" y1="1124" x2="558" y2="1111.5" stroke-width="3.4" stroke-linecap="butt"/>
<line x1="543.8" y1="1111.5" x2="572.2" y2="1111.5" stroke-width="3"/>
<line x1="558" y1="1162" x2="558" y2="1174.5" stroke-width="3.4" stroke-linecap="butt"/>
<line x1="543.8" y1="1174.5" x2="572.2" y2="1174.5" stroke-width="3"/>
<line x1="558" y1="1217.3" x2="558" y2="1216.2" stroke-width="3.4" stroke-linecap="butt"/>
<line x1="543.8" y1="1216.2" x2="572.2" y2="1216.2" stroke-width="3"/>
<line x1="558" y1="1262.3" x2="558" y2="1263.4" stroke-width="3.4" stroke-linecap="butt"/>
<line x1="543.8" y1="1263.4" x2="572.2" y2="1263.4" stroke-width="3"/>
<line x1="635.4" y1="1039.8" x2="635.4" y2="1036.5" stroke-width="3.4" stroke-linecap="butt"/>
<line x1="621.1" y1="1036.5" x2="649.6" y2="1036.5" stroke-width="3"/>
<line x1="635.4" y1="1072.8" x2="635.4" y2="1076.1" stroke-width="3.4" stroke-linecap="butt"/>
<line x1="621.1" y1="1076.1" x2="649.6" y2="1076.1" stroke-width="3"/>
<line x1="635.4" y1="1166" x2="635.4" y2="1180" stroke-width="3.4" stroke-linecap="butt"/>
<line x1="621.1" y1="1180" x2="649.6" y2="1180" stroke-width="3"/>
<line x1="635.4" y1="1204" x2="635.4" y2="1190" stroke-width="3.4" stroke-linecap="butt"/>
<line x1="621.1" y1="1190" x2="649.6" y2="1190" stroke-width="3"/>
<line x1="635.4" y1="1277.1" x2="635.4" y2="1277.9" stroke-width="3.4" stroke-linecap="butt"/>
<line x1="621.1" y1="1277.9" x2="649.6" y2="1277.9" stroke-width="3"/>
<line x1="635.4" y1="1322.1" x2="635.4" y2="1321.3" stroke-width="3.4" stroke-linecap="butt"/>
<line x1="621.1" y1="1321.3" x2="649.6" y2="1321.3" stroke-width="3"/>
<line x1="712.8" y1="1085.5" x2="712.8" y2="1097" stroke-width="3.4" stroke-linecap="butt"/>
<line x1="698.5" y1="1097" x2="727" y2="1097" stroke-width="3"/>
<line x1="712.8" y1="1118.5" x2="712.8" y2="1107" stroke-width="3.4" stroke-linecap="butt"/>
<line x1="698.5" y1="1107" x2="727" y2="1107" stroke-width="3"/>
<line x1="712.8" y1="1231.3" x2="712.8" y2="1245.3" stroke-width="3.4" stroke-linecap="butt"/>
<line x1="698.5" y1="1245.3" x2="727" y2="1245.3" stroke-width="3"/>
<line x1="712.8" y1="1269.3" x2="712.8" y2="1255.3" stroke-width="3.4" stroke-linecap="butt"/>
<line x1="698.5" y1="1255.3" x2="727" y2="1255.3" stroke-width="3"/>
<line x1="712.8" y1="1336.6" x2="712.8" y2="1348.1" stroke-width="3.4" stroke-linecap="butt"/>
<line x1="698.5" y1="1348.1" x2="727" y2="1348.1" stroke-width="3"/>
<line x1="712.8" y1="1381.6" x2="712.8" y2="1370.1" stroke-width="3.4" stroke-linecap="butt"/>
<line x1="698.5" y1="1370.1" x2="727" y2="1370.1" stroke-width="3"/>
<line x1="944.9" y1="1178" x2="944.9" y2="1189.5" stroke-width="3.4" stroke-linecap="butt"/>
<line x1="930.6" y1="1189.5" x2="959.1" y2="1189.5" stroke-width="3"/>
<line x1="944.9" y1="1211" x2="944.9" y2="1199.5" stroke-width="3.4" stroke-linecap="butt"/>
<line x1="930.6" y1="1199.5" x2="959.1" y2="1199.5" stroke-width="3"/>
<line x1="944.9" y1="1248.3" x2="944.9" y2="1246.3" stroke-width="3.4" stroke-linecap="butt"/>
<line x1="930.6" y1="1246.3" x2="959.1" y2="1246.3" stroke-width="3"/>
<line x1="944.9" y1="1286.3" x2="944.9" y2="1288.3" stroke-width="3.4" stroke-linecap="butt"/>
<line x1="930.6" y1="1288.3" x2="959.1" y2="1288.3" stroke-width="3"/>
<line x1="944.9" y1="1367.4" x2="944.9" y2="1377.4" stroke-width="3.4" stroke-linecap="butt"/>
<line x1="930.6" y1="1377.4" x2="959.1" y2="1377.4" stroke-width="3"/>
<line x1="944.9" y1="1412.4" x2="944.9" y2="1402.4" stroke-width="3.4" stroke-linecap="butt"/>
<line x1="930.6" y1="1402.4" x2="959.1" y2="1402.4" stroke-width="3"/>
<line x1="1177" y1="1263.3" x2="1177" y2="1246.4" stroke-width="3.4" stroke-linecap="butt"/>
<line x1="1162.8" y1="1246.4" x2="1191.2" y2="1246.4" stroke-width="3"/>
<line x1="1177" y1="1296.3" x2="1177" y2="1313.2" stroke-width="3.4" stroke-linecap="butt"/>
<line x1="1162.8" y1="1313.2" x2="1191.2" y2="1313.2" stroke-width="3"/>
<line x1="1177" y1="1368" x2="1177" y2="1382" stroke-width="3.4" stroke-linecap="butt"/>
<line x1="1162.8" y1="1382" x2="1191.2" y2="1382" stroke-width="3"/>
<line x1="1177" y1="1406" x2="1177" y2="1392" stroke-width="3.4" stroke-linecap="butt"/>
<line x1="1162.8" y1="1392" x2="1191.2" y2="1392" stroke-width="3"/>
<line x1="1177" y1="1426.4" x2="1177" y2="1439.5" stroke-width="3.4" stroke-linecap="butt"/>
<line x1="1162.8" y1="1439.5" x2="1191.2" y2="1439.5" stroke-width="3"/>
<line x1="1177" y1="1471.4" x2="1177" y2="1458.3" stroke-width="3.4" stroke-linecap="butt"/>
<line x1="1162.8" y1="1458.3" x2="1191.2" y2="1458.3" stroke-width="3"/>
<line x1="1641.2" y1="1334" x2="1641.2" y2="1305.8" stroke-width="3.4" stroke-linecap="butt"/>
<line x1="1627" y1="1305.8" x2="1655.5" y2="1305.8" stroke-width="3"/>
<line x1="1641.2" y1="1367" x2="1641.2" y2="1395.2" stroke-width="3.4" stroke-linecap="butt"/>
<line x1="1627" y1="1395.2" x2="1655.5" y2="1395.2" stroke-width="3"/>
<line x1="1641.2" y1="1368" x2="1641.2" y2="1382" stroke-width="3.4" stroke-linecap="butt"/>
<line x1="1627" y1="1382" x2="1655.5" y2="1382" stroke-width="3"/>
<line x1="1641.2" y1="1406" x2="1641.2" y2="1392" stroke-width="3.4" stroke-linecap="butt"/>
<line x1="1627" y1="1392" x2="1655.5" y2="1392" stroke-width="3"/>
<line x1="1641.2" y1="1486.3" x2="1641.2" y2="1491.3" stroke-width="3.4" stroke-linecap="butt"/>
<line x1="1627" y1="1491.3" x2="1655.5" y2="1491.3" stroke-width="3"/>
<line x1="1641.2" y1="1531.3" x2="1641.2" y2="1526.3" stroke-width="3.4" stroke-linecap="butt"/>
<line x1="1627" y1="1526.3" x2="1655.5" y2="1526.3" stroke-width="3"/>
<line x1="2105.5" y1="1348.5" x2="2105.5" y2="1326" stroke-width="3.4" stroke-linecap="butt"/>
<line x1="2091.2" y1="1326" x2="2119.8" y2="1326" stroke-width="3"/>
<line x1="2105.5" y1="1381.5" x2="2105.5" y2="1404" stroke-width="3.4" stroke-linecap="butt"/>
<line x1="2091.2" y1="1404" x2="2119.8" y2="1404" stroke-width="3"/>
<line x1="2105.5" y1="1360.5" x2="2105.5" y2="1357.5" stroke-width="3.4" stroke-linecap="butt"/>
<line x1="2091.2" y1="1357.5" x2="2119.8" y2="1357.5" stroke-width="3"/>
<line x1="2105.5" y1="1398.5" x2="2105.5" y2="1401.5" stroke-width="3.4" stroke-linecap="butt"/>
<line x1="2091.2" y1="1401.5" x2="2119.8" y2="1401.5" stroke-width="3"/>
<line x1="2105.5" y1="1486.9" x2="2105.5" y2="1484.8" stroke-width="3.4" stroke-linecap="butt"/>
<line x1="2091.2" y1="1484.8" x2="2119.8" y2="1484.8" stroke-width="3"/>
<line x1="2105.5" y1="1531.9" x2="2105.5" y2="1534" stroke-width="3.4" stroke-linecap="butt"/>
<line x1="2091.2" y1="1534" x2="2119.8" y2="1534" stroke-width="3"/>
<rect x="232" y="176" width="33" height="33" rx="1.5" stroke="none"/>
<rect x="309.4" y="433.9" width="33" height="33" rx="1.5" stroke="none"/>
<rect x="386.8" y="585.7" width="33" height="33" rx="1.5" stroke="none"/>
<rect x="464.1" y="778.9" width="33" height="33" rx="1.5" stroke="none"/>
<rect x="541.5" y="955.7" width="33" height="33" rx="1.5" stroke="none"/>
<rect x="618.9" y="1039.8" width="33" height="33" rx="1.5" stroke="none"/>
<rect x="696.2" y="1085.5" width="33" height="33" rx="1.5" stroke="none"/>
<rect x="928.4" y="1178" width="33" height="33" rx="1.5" stroke="none"/>
<rect x="1160.5" y="1263.3" width="33" height="33" rx="1.5" stroke="none"/>
<rect x="1624.8" y="1334" width="33" height="33" rx="1.5" stroke="none"/>
<rect x="2089" y="1348.5" width="33" height="33" rx="1.5" stroke="none"/>
<circle cx="248.5" cy="191" r="19" stroke="none"/>
<circle cx="325.9" cy="638.7" r="19" stroke="none"/>
<circle cx="403.2" cy="829.5" r="19" stroke="none"/>
<circle cx="480.6" cy="958.8" r="19" stroke="none"/>
<circle cx="558" cy="1143" r="19" stroke="none"/>
<circle cx="635.4" cy="1185" r="19" stroke="none"/>
<circle cx="712.8" cy="1250.3" r="19" stroke="none"/>
<circle cx="944.9" cy="1267.3" r="19" stroke="none"/>
<circle cx="1177" cy="1387" r="19" stroke="none"/>
<circle cx="1641.2" cy="1387" r="19" stroke="none"/>
<circle cx="2105.5" cy="1379.5" r="19" stroke="none"/>
<path d="M248.5 169.6L270.5 207.7L226.5 207.7Z" stroke="none"/>
<path d="M325.9 765.4L347.9 803.5L303.9 803.5Z" stroke="none"/>
<path d="M403.2 914.9L425.2 953L381.2 953Z" stroke="none"/>
<path d="M480.6 1034.4L502.6 1072.5L458.6 1072.5Z" stroke="none"/>
<path d="M558 1214.4L580 1252.5L536 1252.5Z" stroke="none"/>
<path d="M635.4 1274.2L657.4 1312.3L613.4 1312.3Z" stroke="none"/>
<path d="M712.8 1333.7L734.8 1371.8L690.8 1371.8Z" stroke="none"/>
<path d="M944.9 1364.5L966.9 1402.6L922.9 1402.6Z" stroke="none"/>
<path d="M1177 1423.5L1199 1461.6L1155 1461.6Z" stroke="none"/>
<path d="M1641.2 1483.4L1663.2 1521.5L1619.2 1521.5Z" stroke="none"/>
<path d="M2105.5 1484L2127.5 1522.1L2083.5 1522.1Z" stroke="none"/>
</g>
<g fill="#000" stroke="#000" stroke-linecap="round" clip-path="url(#cb)">
<line x1="276.5" y1="1969" x2="276.5" y2="2004" stroke-width="4.6" stroke-linecap="square"/>
<line x1="340" y1="2336" x2="340" y2="2297.5" stroke-width="3.4" stroke-linecap="butt"/>
<line x1="325.8" y1="2297.5" x2="354.3" y2="2297.5" stroke-width="3"/>
<line x1="340" y1="2368" x2="340" y2="2406.5" stroke-width="3.4" stroke-linecap="butt"/>
<line x1="325.8" y1="2406.5" x2="354.3" y2="2406.5" stroke-width="3"/>
<line x1="340" y1="2548.7" x2="340" y2="2471.7" stroke-width="3.4" stroke-linecap="butt"/>
<line x1="325.8" y1="2471.7" x2="354.3" y2="2471.7" stroke-width="3"/>
<line x1="340" y1="2585.7" x2="340" y2="2662.7" stroke-width="3.4" stroke-linecap="butt"/>
<line x1="325.8" y1="2662.7" x2="354.3" y2="2662.7" stroke-width="3"/>
<line x1="340" y1="2883.5" x2="340" y2="2860.3" stroke-width="3.4" stroke-linecap="butt"/>
<line x1="325.8" y1="2860.3" x2="354.3" y2="2860.3" stroke-width="3"/>
<line x1="340" y1="2928.5" x2="340" y2="2951.7" stroke-width="3.4" stroke-linecap="butt"/>
<line x1="325.8" y1="2951.7" x2="354.3" y2="2951.7" stroke-width="3"/>
<line x1="417.1" y1="2606.2" x2="417.1" y2="2569.2" stroke-width="3.4" stroke-linecap="butt"/>
<line x1="402.8" y1="2569.2" x2="431.3" y2="2569.2" stroke-width="3"/>
<line x1="417.1" y1="2638.2" x2="417.1" y2="2675.2" stroke-width="3.4" stroke-linecap="butt"/>
<line x1="402.8" y1="2675.2" x2="431.3" y2="2675.2" stroke-width="3"/>
<line x1="417.1" y1="2797.3" x2="417.1" y2="2748.8" stroke-width="3.4" stroke-linecap="butt"/>
<line x1="402.8" y1="2748.8" x2="431.3" y2="2748.8" stroke-width="3"/>
<line x1="417.1" y1="2834.3" x2="417.1" y2="2882.8" stroke-width="3.4" stroke-linecap="butt"/>
<line x1="402.8" y1="2882.8" x2="431.3" y2="2882.8" stroke-width="3"/>
<line x1="417.1" y1="3021" x2="417.1" y2="2982.2" stroke-width="3.4" stroke-linecap="butt"/>
<line x1="402.8" y1="2982.2" x2="431.3" y2="2982.2" stroke-width="3"/>
<line x1="417.1" y1="3066" x2="417.1" y2="3104.8" stroke-width="3.4" stroke-linecap="butt"/>
<line x1="402.8" y1="3104.8" x2="431.3" y2="3104.8" stroke-width="3"/>
<line x1="494.1" y1="2699.5" x2="494.1" y2="2691.8" stroke-width="3.4" stroke-linecap="butt"/>
<line x1="479.9" y1="2691.8" x2="508.4" y2="2691.8" stroke-width="3"/>
<line x1="494.1" y1="2731.5" x2="494.1" y2="2739.2" stroke-width="3.4" stroke-linecap="butt"/>
<line x1="479.9" y1="2739.2" x2="508.4" y2="2739.2" stroke-width="3"/>
<line x1="494.1" y1="2851.1" x2="494.1" y2="2812.6" stroke-width="3.4" stroke-linecap="butt"/>
<line x1="479.9" y1="2812.6" x2="508.4" y2="2812.6" stroke-width="3"/>
<line x1="494.1" y1="2888.1" x2="494.1" y2="2926.6" stroke-width="3.4" stroke-linecap="butt"/>
<line x1="479.9" y1="2926.6" x2="508.4" y2="2926.6" stroke-width="3"/>
<line x1="494.1" y1="3145.3" x2="494.1" y2="3120.1" stroke-width="3.4" stroke-linecap="butt"/>
<line x1="479.9" y1="3120.1" x2="508.4" y2="3120.1" stroke-width="3"/>
<line x1="494.1" y1="3190.3" x2="494.1" y2="3215.5" stroke-width="3.4" stroke-linecap="butt"/>
<line x1="479.9" y1="3215.5" x2="508.4" y2="3215.5" stroke-width="3"/>
<line x1="571.2" y1="2757.4" x2="571.2" y2="2737" stroke-width="3.4" stroke-linecap="butt"/>
<line x1="556.9" y1="2737" x2="585.4" y2="2737" stroke-width="3"/>
<line x1="571.2" y1="2789.4" x2="571.2" y2="2809.8" stroke-width="3.4" stroke-linecap="butt"/>
<line x1="556.9" y1="2809.8" x2="585.4" y2="2809.8" stroke-width="3"/>
<line x1="571.2" y1="2931" x2="571.2" y2="2902.1" stroke-width="3.4" stroke-linecap="butt"/>
<line x1="556.9" y1="2902.1" x2="585.4" y2="2902.1" stroke-width="3"/>
<line x1="571.2" y1="2968" x2="571.2" y2="2996.9" stroke-width="3.4" stroke-linecap="butt"/>
<line x1="556.9" y1="2996.9" x2="585.4" y2="2996.9" stroke-width="3"/>
<line x1="571.2" y1="3175.9" x2="571.2" y2="3128.4" stroke-width="3.4" stroke-linecap="butt"/>
<line x1="556.9" y1="3128.4" x2="585.4" y2="3128.4" stroke-width="3"/>
<line x1="571.2" y1="3220.9" x2="571.2" y2="3268.4" stroke-width="3.4" stroke-linecap="butt"/>
<line x1="556.9" y1="3268.4" x2="585.4" y2="3268.4" stroke-width="3"/>
<line x1="648.2" y1="2800.5" x2="648.2" y2="2773.9" stroke-width="3.4" stroke-linecap="butt"/>
<line x1="633.9" y1="2773.9" x2="662.4" y2="2773.9" stroke-width="3"/>
<line x1="648.2" y1="2832.5" x2="648.2" y2="2859.1" stroke-width="3.4" stroke-linecap="butt"/>
<line x1="633.9" y1="2859.1" x2="662.4" y2="2859.1" stroke-width="3"/>
<line x1="648.2" y1="3005.5" x2="648.2" y2="2996.7" stroke-width="3.4" stroke-linecap="butt"/>
<line x1="633.9" y1="2996.7" x2="662.4" y2="2996.7" stroke-width="3"/>
<line x1="648.2" y1="3042.5" x2="648.2" y2="3051.3" stroke-width="3.4" stroke-linecap="butt"/>
<line x1="633.9" y1="3051.3" x2="662.4" y2="3051.3" stroke-width="3"/>
<line x1="648.2" y1="3192.5" x2="648.2" y2="3201.3" stroke-width="3.4" stroke-linecap="butt"/>
<line x1="633.9" y1="3201.3" x2="662.4" y2="3201.3" stroke-width="3"/>
<line x1="648.2" y1="3237.5" x2="648.2" y2="3228.7" stroke-width="3.4" stroke-linecap="butt"/>
<line x1="633.9" y1="3228.7" x2="662.4" y2="3228.7" stroke-width="3"/>
<line x1="725.2" y1="2879.3" x2="725.2" y2="2858.3" stroke-width="3.4" stroke-linecap="butt"/>
<line x1="711" y1="2858.3" x2="739.5" y2="2858.3" stroke-width="3"/>
<line x1="725.2" y1="2911.3" x2="725.2" y2="2932.3" stroke-width="3.4" stroke-linecap="butt"/>
<line x1="711" y1="2932.3" x2="739.5" y2="2932.3" stroke-width="3"/>
<line x1="725.2" y1="3045.9" x2="725.2" y2="3029.4" stroke-width="3.4" stroke-linecap="butt"/>
<line x1="711" y1="3029.4" x2="739.5" y2="3029.4" stroke-width="3"/>
<line x1="725.2" y1="3082.9" x2="725.2" y2="3099.4" stroke-width="3.4" stroke-linecap="butt"/>
<line x1="711" y1="3099.4" x2="739.5" y2="3099.4" stroke-width="3"/>
<line x1="725.2" y1="3198" x2="725.2" y2="3183.9" stroke-width="3.4" stroke-linecap="butt"/>
<line x1="711" y1="3183.9" x2="739.5" y2="3183.9" stroke-width="3"/>
<line x1="725.2" y1="3243" x2="725.2" y2="3257.1" stroke-width="3.4" stroke-linecap="butt"/>
<line x1="711" y1="3257.1" x2="739.5" y2="3257.1" stroke-width="3"/>
<line x1="956.3" y1="2913.6" x2="956.3" y2="2890.6" stroke-width="3.4" stroke-linecap="butt"/>
<line x1="942.1" y1="2890.6" x2="970.6" y2="2890.6" stroke-width="3"/>
<line x1="956.3" y1="2945.6" x2="956.3" y2="2968.6" stroke-width="3.4" stroke-linecap="butt"/>
<line x1="942.1" y1="2968.6" x2="970.6" y2="2968.6" stroke-width="3"/>
<line x1="956.3" y1="3045.2" x2="956.3" y2="3019.7" stroke-width="3.4" stroke-linecap="butt"/>
<line x1="942.1" y1="3019.7" x2="970.6" y2="3019.7" stroke-width="3"/>
<line x1="956.3" y1="3082.2" x2="956.3" y2="3107.7" stroke-width="3.4" stroke-linecap="butt"/>
<line x1="942.1" y1="3107.7" x2="970.6" y2="3107.7" stroke-width="3"/>
<line x1="956.3" y1="3206" x2="956.3" y2="3195" stroke-width="3.4" stroke-linecap="butt"/>
<line x1="942.1" y1="3195" x2="970.6" y2="3195" stroke-width="3"/>
<line x1="956.3" y1="3251" x2="956.3" y2="3262" stroke-width="3.4" stroke-linecap="butt"/>
<line x1="942.1" y1="3262" x2="970.6" y2="3262" stroke-width="3"/>
<line x1="1187.5" y1="2914" x2="1187.5" y2="2912" stroke-width="3.4" stroke-linecap="butt"/>
<line x1="1173.2" y1="2912" x2="1201.7" y2="2912" stroke-width="3"/>
<line x1="1187.5" y1="2946" x2="1187.5" y2="2948" stroke-width="3.4" stroke-linecap="butt"/>
<line x1="1173.2" y1="2948" x2="1201.7" y2="2948" stroke-width="3"/>
<line x1="1187.5" y1="3044" x2="1187.5" y2="3021.9" stroke-width="3.4" stroke-linecap="butt"/>
<line x1="1173.2" y1="3021.9" x2="1201.7" y2="3021.9" stroke-width="3"/>
<line x1="1187.5" y1="3081" x2="1187.5" y2="3103.1" stroke-width="3.4" stroke-linecap="butt"/>
<line x1="1173.2" y1="3103.1" x2="1201.7" y2="3103.1" stroke-width="3"/>
<line x1="1187.5" y1="3206.1" x2="1187.5" y2="3208.6" stroke-width="3.4" stroke-linecap="butt"/>
<line x1="1173.2" y1="3208.6" x2="1201.7" y2="3208.6" stroke-width="3"/>
<line x1="1187.5" y1="3251.1" x2="1187.5" y2="3248.6" stroke-width="3.4" stroke-linecap="butt"/>
<line x1="1173.2" y1="3248.6" x2="1201.7" y2="3248.6" stroke-width="3"/>
<line x1="1649.7" y1="2913.5" x2="1649.7" y2="2906.7" stroke-width="3.4" stroke-linecap="butt"/>
<line x1="1635.4" y1="2906.7" x2="1663.9" y2="2906.7" stroke-width="3"/>
<line x1="1649.7" y1="2945.5" x2="1649.7" y2="2952.3" stroke-width="3.4" stroke-linecap="butt"/>
<line x1="1635.4" y1="2952.3" x2="1663.9" y2="2952.3" stroke-width="3"/>
<line x1="1649.7" y1="3044.2" x2="1649.7" y2="3019.7" stroke-width="3.4" stroke-linecap="butt"/>
<line x1="1635.4" y1="3019.7" x2="1663.9" y2="3019.7" stroke-width="3"/>
<line x1="1649.7" y1="3081.2" x2="1649.7" y2="3105.7" stroke-width="3.4" stroke-linecap="butt"/>
<line x1="1635.4" y1="3105.7" x2="1663.9" y2="3105.7" stroke-width="3"/>
<line x1="1649.7" y1="3206.2" x2="1649.7" y2="3212.3" stroke-width="3.4" stroke-linecap="butt"/>
<line x1="1635.4" y1="3212.3" x2="1663.9" y2="3212.3" stroke-width="3"/>
<line x1="1649.7" y1="3251.2" x2="1649.7" y2="3245.1" stroke-width="3.4" stroke-linecap="butt"/>
<line x1="1635.4" y1="3245.1" x2="1663.9" y2="3245.1" stroke-width="3"/>
<line x1="2111.9" y1="2913.5" x2="2111.9" y2="2910.5" stroke-width="3.4" stroke-linecap="butt"/>
<line x1="2097.7" y1="2910.5" x2="2126.2" y2="2910.5" stroke-width="3"/>
<line x1="2111.9" y1="2945.5" x2="2111.9" y2="2948.5" stroke-width="3.4" stroke-linecap="butt"/>
<line x1="2097.7" y1="2948.5" x2="2126.2" y2="2948.5" stroke-width="3"/>
<line x1="2111.9" y1="3045" x2="2111.9" y2="3032.5" stroke-width="3.4" stroke-linecap="butt"/>
<line x1="2097.7" y1="3032.5" x2="2126.2" y2="3032.5" stroke-width="3"/>
<line x1="2111.9" y1="3082" x2="2111.9" y2="3094.5" stroke-width="3.4" stroke-linecap="butt"/>
<line x1="2097.7" y1="3094.5" x2="2126.2" y2="3094.5" stroke-width="3"/>
<line x1="2111.9" y1="3206.3" x2="2111.9" y2="3216" stroke-width="3.4" stroke-linecap="butt"/>
<line x1="2097.7" y1="3216" x2="2126.2" y2="3216" stroke-width="3"/>
<line x1="2111.9" y1="3251.3" x2="2111.9" y2="3241.6" stroke-width="3.4" stroke-linecap="butt"/>
<line x1="2097.7" y1="3241.6" x2="2126.2" y2="3241.6" stroke-width="3"/>
</g>
<g fill="none" stroke="#000" clip-path="url(#cb)">
<g fill="none" stroke-width="3.2"><rect x="248.5" y="1973.5" width="29" height="29"/><path stroke-width="3.7" d="M248.5 1973.5L277.5 2002.5M248.5 2002.5L277.5 1973.5"/></g>
<g fill="none" stroke-width="3.2"><rect x="325.5" y="2337.5" width="29" height="29"/><path stroke-width="3.7" d="M325.5 2337.5L354.5 2366.5M325.5 2366.5L354.5 2337.5"/></g>
<g fill="none" stroke-width="3.2"><rect x="402.6" y="2607.7" width="29" height="29"/><path stroke-width="3.7" d="M402.6 2607.7L431.6 2636.7M402.6 2636.7L431.6 2607.7"/></g>
<g fill="none" stroke-width="3.2"><rect x="479.6" y="2701" width="29" height="29"/><path stroke-width="3.7" d="M479.6 2701L508.6 2730M479.6 2730L508.6 2701"/></g>
<g fill="none" stroke-width="3.2"><rect x="556.7" y="2758.9" width="29" height="29"/><path stroke-width="3.7" d="M556.7 2758.9L585.7 2787.9M556.7 2787.9L585.7 2758.9"/></g>
<g fill="none" stroke-width="3.2"><rect x="633.7" y="2802" width="29" height="29"/><path stroke-width="3.7" d="M633.7 2802L662.7 2831M633.7 2831L662.7 2802"/></g>
<g fill="none" stroke-width="3.2"><rect x="710.7" y="2880.8" width="29" height="29"/><path stroke-width="3.7" d="M710.7 2880.8L739.7 2909.8M710.7 2909.8L739.7 2880.8"/></g>
<g fill="none" stroke-width="3.2"><rect x="941.8" y="2915.1" width="29" height="29"/><path stroke-width="3.7" d="M941.8 2915.1L970.8 2944.1M941.8 2944.1L970.8 2915.1"/></g>
<g fill="none" stroke-width="3.2"><rect x="1173" y="2915.5" width="29" height="29"/><path stroke-width="3.7" d="M1173 2915.5L1202 2944.5M1173 2944.5L1202 2915.5"/></g>
<g fill="none" stroke-width="3.2"><rect x="1635.2" y="2915" width="29" height="29"/><path stroke-width="3.7" d="M1635.2 2915L1664.2 2944M1635.2 2944L1664.2 2915"/></g>
<g fill="none" stroke-width="3.2"><rect x="2097.4" y="2915" width="29" height="29"/><path stroke-width="3.7" d="M2097.4 2915L2126.4 2944M2097.4 2944L2126.4 2915"/></g>
<g fill="none" stroke-width="3.2"><circle cx="263" cy="1987" r="16.7"/><path stroke-width="3.7" d="M246.7 1970.7L279.3 2003.3M246.7 2003.3L279.3 1970.7"/></g>
<g fill="none" stroke-width="3.2"><circle cx="340" cy="2567.2" r="16.7"/><path stroke-width="3.7" d="M323.7 2550.9L356.3 2583.5M323.7 2583.5L356.3 2550.9"/></g>
<g fill="none" stroke-width="3.2"><circle cx="417.1" cy="2815.8" r="16.7"/><path stroke-width="3.7" d="M400.8 2799.5L433.4 2832.1M400.8 2832.1L433.4 2799.5"/></g>
<g fill="none" stroke-width="3.2"><circle cx="494.1" cy="2869.6" r="16.7"/><path stroke-width="3.7" d="M477.8 2853.3L510.4 2885.9M477.8 2885.9L510.4 2853.3"/></g>
<g fill="none" stroke-width="3.2"><circle cx="571.2" cy="2949.5" r="16.7"/><path stroke-width="3.7" d="M554.9 2933.2L587.5 2965.8M554.9 2965.8L587.5 2933.2"/></g>
<g fill="none" stroke-width="3.2"><circle cx="648.2" cy="3024" r="16.7"/><path stroke-width="3.7" d="M631.9 3007.7L664.5 3040.3M631.9 3040.3L664.5 3007.7"/></g>
<g fill="none" stroke-width="3.2"><circle cx="725.2" cy="3064.4" r="16.7"/><path stroke-width="3.7" d="M708.9 3048.1L741.5 3080.7M708.9 3080.7L741.5 3048.1"/></g>
<g fill="none" stroke-width="3.2"><circle cx="956.3" cy="3063.7" r="16.7"/><path stroke-width="3.7" d="M940 3047.4L972.6 3080M940 3080L972.6 3047.4"/></g>
<g fill="none" stroke-width="3.2"><circle cx="1187.5" cy="3062.5" r="16.7"/><path stroke-width="3.7" d="M1171.2 3046.2L1203.8 3078.8M1171.2 3078.8L1203.8 3046.2"/></g>
<g fill="none" stroke-width="3.2"><circle cx="1649.7" cy="3062.7" r="16.7"/><path stroke-width="3.7" d="M1633.4 3046.4L1666 3079M1633.4 3079L1666 3046.4"/></g>
<g fill="none" stroke-width="3.2"><circle cx="2111.9" cy="3063.5" r="16.7"/><path stroke-width="3.7" d="M2095.6 3047.2L2128.2 3079.8M2095.6 3079.8L2128.2 3047.2"/></g>
<g fill="none" stroke-width="3.2" stroke-linejoin="miter"><path d="M263 1965.9L283 2000.5L243 2000.5Z"/><path stroke-width="3.6" d="M240.4 1966.4L285.6 2011.6M240.4 2011.6L285.6 1966.4"/></g>
<g fill="none" stroke-width="3.2" stroke-linejoin="miter"><path d="M340 2882.9L360 2917.5L320 2917.5Z"/><path stroke-width="3.6" d="M317.4 2883.4L362.6 2928.6M317.4 2928.6L362.6 2883.4"/></g>
<g fill="none" stroke-width="3.2" stroke-linejoin="miter"><path d="M417.1 3020.4L437.1 3055L397.1 3055Z"/><path stroke-width="3.6" d="M394.5 3020.9L439.7 3066.1M394.5 3066.1L439.7 3020.9"/></g>
<g fill="none" stroke-width="3.2" stroke-linejoin="miter"><path d="M494.1 3144.7L514.1 3179.3L474.1 3179.3Z"/><path stroke-width="3.6" d="M471.5 3145.2L516.7 3190.4M471.5 3190.4L516.7 3145.2"/></g>
<g fill="none" stroke-width="3.2" stroke-linejoin="miter"><path d="M571.2 3175.3L591.2 3209.9L551.2 3209.9Z"/><path stroke-width="3.6" d="M548.6 3175.8L593.8 3221M548.6 3221L593.8 3175.8"/></g>
<g fill="none" stroke-width="3.2" stroke-linejoin="miter"><path d="M648.2 3191.9L668.2 3226.5L628.2 3226.5Z"/><path stroke-width="3.6" d="M625.6 3192.4L670.8 3237.6M625.6 3237.6L670.8 3192.4"/></g>
<g fill="none" stroke-width="3.2" stroke-linejoin="miter"><path d="M725.2 3197.4L745.2 3232L705.2 3232Z"/><path stroke-width="3.6" d="M702.6 3197.9L747.8 3243.1M702.6 3243.1L747.8 3197.9"/></g>
<g fill="none" stroke-width="3.2" stroke-linejoin="miter"><path d="M956.3 3205.4L976.3 3240L936.3 3240Z"/><path stroke-width="3.6" d="M933.7 3205.9L978.9 3251.1M933.7 3251.1L978.9 3205.9"/></g>
<g fill="none" stroke-width="3.2" stroke-linejoin="miter"><path d="M1187.5 3205.5L1207.5 3240.1L1167.5 3240.1Z"/><path stroke-width="3.6" d="M1164.9 3206L1210 3251.2M1164.9 3251.2L1210 3206"/></g>
<g fill="none" stroke-width="3.2" stroke-linejoin="miter"><path d="M1649.7 3205.6L1669.7 3240.2L1629.7 3240.2Z"/><path stroke-width="3.6" d="M1627.1 3206.1L1672.3 3251.3M1627.1 3251.3L1672.3 3206.1"/></g>
<g fill="none" stroke-width="3.2" stroke-linejoin="miter"><path d="M2111.9 3205.7L2131.9 3240.3L2091.9 3240.3Z"/><path stroke-width="3.6" d="M2089.3 3206.2L2134.5 3251.4M2089.3 3251.4L2134.5 3206.2"/></g>
</g>
<g fill="#000">
<rect x="1346.2" y="516" width="32.5" height="32.5" rx="1.5" stroke="none"/>
<circle cx="1362.2" cy="619" r="18.5" stroke="none"/>
<path d="M1362.2 681.7L1384 719.5L1340.4 719.5Z" stroke="none"/>
</g>
<g fill="none" stroke="#000">
<g fill="none" stroke-width="3.2"><rect x="1417.5" y="2358" width="29" height="29"/><path stroke-width="3.7" d="M1417.5 2358L1446.5 2387M1417.5 2387L1446.5 2358"/></g>
<g fill="none" stroke-width="3.2"><circle cx="1432" cy="2458" r="16.7"/><path stroke-width="3.7" d="M1415.7 2441.7L1448.3 2474.3M1415.7 2474.3L1448.3 2441.7"/></g>
<g fill="none" stroke-width="3.2" stroke-linejoin="miter"><path d="M1432 2521.9L1452 2556.5L1412 2556.5Z"/><path stroke-width="3.6" d="M1409.4 2522.4L1454.6 2567.6M1409.4 2567.6L1454.6 2522.4"/></g>
</g>
<g font-family="'Liberation Serif', 'Times New Roman', serif" fill="#000">
<text transform="translate(202.5 1557.7) scale(1.000 1.075)" font-size="69" text-anchor="end">0.0</text>
<text transform="translate(217.6 3349.5) scale(1.000 1.075)" font-size="69" text-anchor="end">0.0</text>
<text transform="translate(200 1258.7) scale(1.000 1.075)" font-size="69" text-anchor="end">0.5</text>
<text transform="translate(215.3 3051.3) scale(1.000 1.075)" font-size="69" text-anchor="end">0.5</text>
<text transform="translate(202.5 959.7) scale(1.000 1.075)" font-size="69" text-anchor="end">1.0</text>
<text transform="translate(217.6 2753.1) scale(1.000 1.075)" font-size="69" text-anchor="end">1.0</text>
<text transform="translate(200 660.7) scale(1.000 1.075)" font-size="69" text-anchor="end">1.5</text>
<text transform="translate(215.3 2454.8) scale(1.000 1.075)" font-size="69" text-anchor="end">1.5</text>
<text transform="translate(202.5 361.7) scale(1.000 1.075)" font-size="69" text-anchor="end">2.0</text>
<text transform="translate(217.6 2156.6) scale(1.000 1.075)" font-size="69" text-anchor="end">2.0</text>
<text transform="translate(200 62.7) scale(1.000 1.075)" font-size="69" text-anchor="end">2.5</text>
<text transform="translate(215.3 1858.4) scale(1.000 1.075)" font-size="69" text-anchor="end">2.5</text>
<text transform="translate(248.5 1639.2) scale(1.000 1.075)" font-size="69" text-anchor="middle">0</text>
<text transform="translate(264 3430.9) scale(1.000 1.075)" font-size="69" text-anchor="middle">0</text>
<text transform="translate(558 1639.2) scale(1.000 1.075)" font-size="69" text-anchor="middle">20</text>
<text transform="translate(572.2 3430.9) scale(1.000 1.075)" font-size="69" text-anchor="middle">20</text>
<text transform="translate(867.5 1639.2) scale(1.000 1.075)" font-size="69" text-anchor="middle">40</text>
<text transform="translate(880.3 3430.9) scale(1.000 1.075)" font-size="69" text-anchor="middle">40</text>
<text transform="translate(1177 1639.2) scale(1.000 1.075)" font-size="69" text-anchor="middle">60</text>
<text transform="translate(1188.5 3430.9) scale(1.000 1.075)" font-size="69" text-anchor="middle">60</text>
<text transform="translate(1486.5 1639.2) scale(1.000 1.075)" font-size="69" text-anchor="middle">80</text>
<text transform="translate(1496.6 3430.9) scale(1.000 1.075)" font-size="69" text-anchor="middle">80</text>
<text transform="translate(1797.5 1639.2) scale(1.000 1.075)" font-size="69" text-anchor="middle">100</text>
<text transform="translate(1806.2 3430.9) scale(1.000 1.075)" font-size="69" text-anchor="middle">100</text>
<text transform="translate(2107 1639.2) scale(1.000 1.075)" font-size="69" text-anchor="middle">120</text>
<text transform="translate(2114.4 3430.9) scale(1.000 1.075)" font-size="69" text-anchor="middle">120</text>
<text transform="translate(1098.1 1760.8) scale(1.000 1.038)" font-size="69.3" text-anchor="start">Time (min)</text>
<text transform="translate(1109.2 3552) scale(1.000 1.039)" font-size="68.9" text-anchor="start">Time (min)</text>
<text transform="translate(62.5 1035.8) rotate(-90)" font-size="71.1" text-anchor="start">[BR] (mg/dL)</text>
<text transform="translate(77.9 2828.7) rotate(-90)" font-size="70.9" text-anchor="start">[BR] (mg/dL)</text>
<text transform="translate(2127.5 151)" font-size="100" text-anchor="start">(a)</text>
<text transform="translate(2124.4 1949.5)" font-size="100" text-anchor="start">(b)</text>
<text transform="translate(1458 555.6) scale(1.000 1.040)" font-size="69.9" text-anchor="start">St-MMA</text>
<text transform="translate(1528.9 2394.6) scale(1.000 1.040)" font-size="68.9" text-anchor="start">St-MMA</text>
<text transform="translate(1458.1 642.7) scale(1.000 1.048)" font-size="69.4" text-anchor="start">St-MMA-PEGMA</text>
<text transform="translate(1528.9 2480.7) scale(1.000 1.042)" font-size="68.7" text-anchor="start">St-MMA-PEGMA</text>
<text transform="translate(1458.1 729) scale(1.000 1.051)" font-size="69.2" text-anchor="start">St-MMA-GMA-PEGMA</text>
<text transform="translate(1528.9 2567.8) scale(1.000 1.044)" font-size="68.6" text-anchor="start">St-MMA-GMA-PEGMA</text>
</g>
</svg>
</body></html>
